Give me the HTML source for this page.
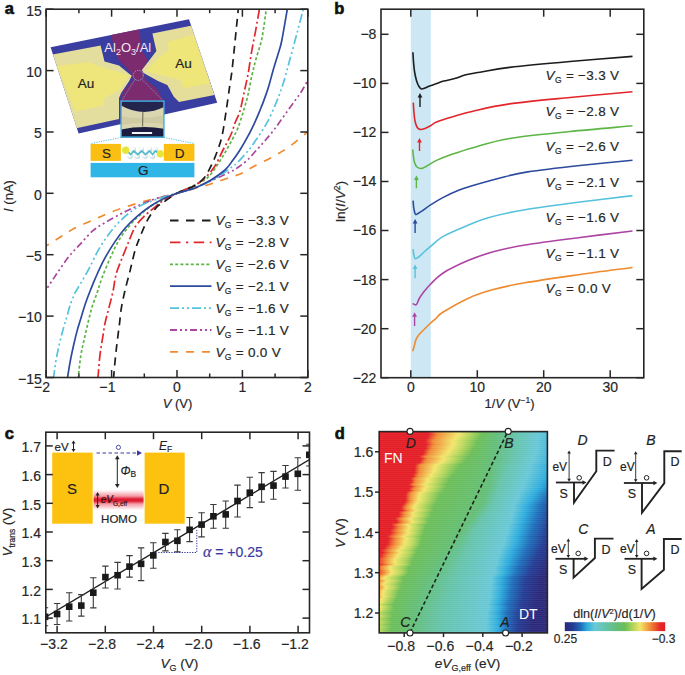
<!DOCTYPE html>
<html><head><meta charset="utf-8"><style>
html,body{margin:0;padding:0;background:#fff;}
svg{display:block;}
text{font-family:"Liberation Sans", sans-serif;}
</style></head><body>
<svg width="685" height="675" viewBox="0 0 685 675" font-family="Liberation Sans, sans-serif">
<rect width="685" height="675" fill="#fff"/>
<defs>
<clipPath id="clipA"><rect x="46.1" y="9.2" width="261.7" height="368.3"/></clipPath>
<clipPath id="clipB"><rect x="381" y="9.2" width="262.8" height="368.5"/></clipPath>
<clipPath id="clipC"><rect x="45.8" y="432.2" width="263.7" height="200.5"/></clipPath>
<linearGradient id="homo" x1="0" y1="0" x2="0" y2="1"><stop offset="0" stop-color="#e8213a" stop-opacity="0"/><stop offset="0.3" stop-color="#e8213a" stop-opacity="0.45"/><stop offset="0.45" stop-color="#dc1c32"/><stop offset="0.55" stop-color="#dc1c32"/><stop offset="0.7" stop-color="#e8213a" stop-opacity="0.45"/><stop offset="1" stop-color="#e8213a" stop-opacity="0"/></linearGradient>
<linearGradient id="cbar" x1="0" y1="0" x2="1" y2="0"><stop offset="0.000" stop-color="#2a287a"/><stop offset="0.080" stop-color="#243c94"/><stop offset="0.160" stop-color="#1e6eba"/><stop offset="0.220" stop-color="#2dacde"/><stop offset="0.300" stop-color="#69c8d7"/><stop offset="0.400" stop-color="#66c4ac"/><stop offset="0.520" stop-color="#64be78"/><stop offset="0.600" stop-color="#6cbe58"/><stop offset="0.680" stop-color="#b2d55c"/><stop offset="0.750" stop-color="#f3e66c"/><stop offset="0.850" stop-color="#f08c37"/><stop offset="0.950" stop-color="#e62826"/><stop offset="1.000" stop-color="#e41e26"/></linearGradient>
<linearGradient id="h0"><stop offset="0.000" stop-color="#e41e26"/><stop offset="0.288" stop-color="#e41e26"/><stop offset="0.342" stop-color="#f08c37"/><stop offset="0.467" stop-color="#f3e66c"/><stop offset="0.538" stop-color="#b2d55c"/><stop offset="0.610" stop-color="#6cbe58"/><stop offset="0.688" stop-color="#64be78"/><stop offset="0.818" stop-color="#66c4ac"/><stop offset="0.943" stop-color="#69c8d7"/><stop offset="1.000" stop-color="#51bdda"/></linearGradient>
<linearGradient id="h1"><stop offset="0.000" stop-color="#e41e26"/><stop offset="0.294" stop-color="#e41e26"/><stop offset="0.348" stop-color="#f08c37"/><stop offset="0.472" stop-color="#f3e66c"/><stop offset="0.544" stop-color="#b2d55c"/><stop offset="0.613" stop-color="#6cbe58"/><stop offset="0.690" stop-color="#64be78"/><stop offset="0.821" stop-color="#66c4ac"/><stop offset="0.946" stop-color="#69c8d7"/><stop offset="1.000" stop-color="#52bdda"/></linearGradient>
<linearGradient id="h2"><stop offset="0.000" stop-color="#e41e26"/><stop offset="0.286" stop-color="#e41e26"/><stop offset="0.338" stop-color="#f08c37"/><stop offset="0.461" stop-color="#f3e66c"/><stop offset="0.532" stop-color="#b2d55c"/><stop offset="0.605" stop-color="#6cbe58"/><stop offset="0.686" stop-color="#64be78"/><stop offset="0.818" stop-color="#66c4ac"/><stop offset="0.942" stop-color="#69c8d7"/><stop offset="1.000" stop-color="#50bcda"/></linearGradient>
<linearGradient id="h3"><stop offset="0.000" stop-color="#e41e26"/><stop offset="0.281" stop-color="#e41e26"/><stop offset="0.332" stop-color="#f08c37"/><stop offset="0.453" stop-color="#f3e66c"/><stop offset="0.525" stop-color="#b2d55c"/><stop offset="0.597" stop-color="#6cbe58"/><stop offset="0.685" stop-color="#64be78"/><stop offset="0.816" stop-color="#66c4ac"/><stop offset="0.940" stop-color="#69c8d7"/><stop offset="1.000" stop-color="#4fbcda"/></linearGradient>
<linearGradient id="h4"><stop offset="0.000" stop-color="#e41e26"/><stop offset="0.273" stop-color="#e41e26"/><stop offset="0.321" stop-color="#f08c37"/><stop offset="0.441" stop-color="#f3e66c"/><stop offset="0.513" stop-color="#b2d55c"/><stop offset="0.588" stop-color="#6cbe58"/><stop offset="0.681" stop-color="#64be78"/><stop offset="0.813" stop-color="#66c4ac"/><stop offset="0.936" stop-color="#69c8d7"/><stop offset="1.000" stop-color="#4dbbda"/></linearGradient>
<linearGradient id="h5"><stop offset="0.000" stop-color="#e41e26"/><stop offset="0.275" stop-color="#e41e26"/><stop offset="0.322" stop-color="#f08c37"/><stop offset="0.440" stop-color="#f3e66c"/><stop offset="0.511" stop-color="#b2d55c"/><stop offset="0.583" stop-color="#6cbe58"/><stop offset="0.682" stop-color="#64be78"/><stop offset="0.814" stop-color="#66c4ac"/><stop offset="0.937" stop-color="#69c8d7"/><stop offset="1.000" stop-color="#4dbbda"/></linearGradient>
<linearGradient id="h6"><stop offset="0.000" stop-color="#e41e26"/><stop offset="0.282" stop-color="#e41e26"/><stop offset="0.327" stop-color="#f08c37"/><stop offset="0.443" stop-color="#f3e66c"/><stop offset="0.514" stop-color="#b2d55c"/><stop offset="0.581" stop-color="#6cbe58"/><stop offset="0.685" stop-color="#64be78"/><stop offset="0.818" stop-color="#66c4ac"/><stop offset="0.940" stop-color="#69c8d7"/><stop offset="1.000" stop-color="#4ebbda"/></linearGradient>
<linearGradient id="h7"><stop offset="0.000" stop-color="#e41e26"/><stop offset="0.273" stop-color="#e41e26"/><stop offset="0.316" stop-color="#f08c37"/><stop offset="0.430" stop-color="#f3e66c"/><stop offset="0.502" stop-color="#b2d55c"/><stop offset="0.571" stop-color="#6cbe58"/><stop offset="0.681" stop-color="#64be78"/><stop offset="0.814" stop-color="#66c4ac"/><stop offset="0.935" stop-color="#69c8d7"/><stop offset="1.000" stop-color="#4cbada"/></linearGradient>
<linearGradient id="h8"><stop offset="0.000" stop-color="#e41e26"/><stop offset="0.274" stop-color="#e41e26"/><stop offset="0.315" stop-color="#f08c37"/><stop offset="0.428" stop-color="#f3e66c"/><stop offset="0.499" stop-color="#b2d55c"/><stop offset="0.566" stop-color="#6cbe58"/><stop offset="0.682" stop-color="#64be78"/><stop offset="0.815" stop-color="#66c4ac"/><stop offset="0.936" stop-color="#69c8d7"/><stop offset="1.000" stop-color="#4bbada"/></linearGradient>
<linearGradient id="h9"><stop offset="0.000" stop-color="#e41e26"/><stop offset="0.264" stop-color="#e41e26"/><stop offset="0.304" stop-color="#f08c37"/><stop offset="0.415" stop-color="#f3e66c"/><stop offset="0.486" stop-color="#b2d55c"/><stop offset="0.556" stop-color="#6cbe58"/><stop offset="0.678" stop-color="#64be78"/><stop offset="0.811" stop-color="#66c4ac"/><stop offset="0.931" stop-color="#69c8d7"/><stop offset="1.000" stop-color="#49b9db"/></linearGradient>
<linearGradient id="h10"><stop offset="0.000" stop-color="#e41e26"/><stop offset="0.262" stop-color="#e41e26"/><stop offset="0.300" stop-color="#f08c37"/><stop offset="0.409" stop-color="#f3e66c"/><stop offset="0.480" stop-color="#b2d55c"/><stop offset="0.550" stop-color="#6cbe58"/><stop offset="0.677" stop-color="#64be78"/><stop offset="0.810" stop-color="#66c4ac"/><stop offset="0.930" stop-color="#69c8d7"/><stop offset="1.000" stop-color="#48b9db"/></linearGradient>
<linearGradient id="h11"><stop offset="0.000" stop-color="#e41e26"/><stop offset="0.257" stop-color="#e41e26"/><stop offset="0.293" stop-color="#f08c37"/><stop offset="0.400" stop-color="#f3e66c"/><stop offset="0.471" stop-color="#b2d55c"/><stop offset="0.542" stop-color="#6cbe58"/><stop offset="0.675" stop-color="#64be78"/><stop offset="0.808" stop-color="#66c4ac"/><stop offset="0.927" stop-color="#69c8d7"/><stop offset="1.000" stop-color="#46b8db"/></linearGradient>
<linearGradient id="h12"><stop offset="0.000" stop-color="#e41e26"/><stop offset="0.237" stop-color="#e41e26"/><stop offset="0.272" stop-color="#f08c37"/><stop offset="0.377" stop-color="#f3e66c"/><stop offset="0.448" stop-color="#b2d55c"/><stop offset="0.526" stop-color="#6cbe58"/><stop offset="0.667" stop-color="#64be78"/><stop offset="0.796" stop-color="#66c4ac"/><stop offset="0.917" stop-color="#69c8d7"/><stop offset="1.000" stop-color="#41b5dc"/></linearGradient>
<linearGradient id="h13"><stop offset="0.000" stop-color="#e41e26"/><stop offset="0.251" stop-color="#e41e26"/><stop offset="0.286" stop-color="#f08c37"/><stop offset="0.388" stop-color="#f3e66c"/><stop offset="0.458" stop-color="#b2d55c"/><stop offset="0.525" stop-color="#6cbe58"/><stop offset="0.674" stop-color="#64be78"/><stop offset="0.799" stop-color="#66c4ac"/><stop offset="0.921" stop-color="#69c8d7"/><stop offset="1.000" stop-color="#43b6db"/></linearGradient>
<linearGradient id="h14"><stop offset="0.000" stop-color="#e41e26"/><stop offset="0.243" stop-color="#e41e26"/><stop offset="0.277" stop-color="#f08c37"/><stop offset="0.376" stop-color="#f3e66c"/><stop offset="0.446" stop-color="#b2d55c"/><stop offset="0.514" stop-color="#6cbe58"/><stop offset="0.672" stop-color="#64be78"/><stop offset="0.791" stop-color="#66c4ac"/><stop offset="0.916" stop-color="#69c8d7"/><stop offset="1.000" stop-color="#40b5dc"/></linearGradient>
<linearGradient id="h15"><stop offset="0.000" stop-color="#e41e26"/><stop offset="0.238" stop-color="#e41e26"/><stop offset="0.271" stop-color="#f08c37"/><stop offset="0.367" stop-color="#f3e66c"/><stop offset="0.437" stop-color="#b2d55c"/><stop offset="0.504" stop-color="#6cbe58"/><stop offset="0.671" stop-color="#64be78"/><stop offset="0.785" stop-color="#66c4ac"/><stop offset="0.911" stop-color="#69c8d7"/><stop offset="1.000" stop-color="#3db3dc"/></linearGradient>
<linearGradient id="h16"><stop offset="0.000" stop-color="#e41e26"/><stop offset="0.215" stop-color="#e41e26"/><stop offset="0.249" stop-color="#f08c37"/><stop offset="0.341" stop-color="#f3e66c"/><stop offset="0.410" stop-color="#b2d55c"/><stop offset="0.486" stop-color="#6cbe58"/><stop offset="0.662" stop-color="#64be78"/><stop offset="0.770" stop-color="#66c4ac"/><stop offset="0.899" stop-color="#69c8d7"/><stop offset="1.000" stop-color="#36b0dd"/></linearGradient>
<linearGradient id="h17"><stop offset="0.000" stop-color="#e41e26"/><stop offset="0.209" stop-color="#e41e26"/><stop offset="0.242" stop-color="#f08c37"/><stop offset="0.332" stop-color="#f3e66c"/><stop offset="0.400" stop-color="#b2d55c"/><stop offset="0.476" stop-color="#6cbe58"/><stop offset="0.660" stop-color="#64be78"/><stop offset="0.764" stop-color="#66c4ac"/><stop offset="0.894" stop-color="#69c8d7"/><stop offset="1.000" stop-color="#34afdd"/></linearGradient>
<linearGradient id="h18"><stop offset="0.000" stop-color="#e41e26"/><stop offset="0.211" stop-color="#e41e26"/><stop offset="0.243" stop-color="#f08c37"/><stop offset="0.330" stop-color="#f3e66c"/><stop offset="0.398" stop-color="#b2d55c"/><stop offset="0.469" stop-color="#6cbe58"/><stop offset="0.662" stop-color="#64be78"/><stop offset="0.760" stop-color="#66c4ac"/><stop offset="0.893" stop-color="#69c8d7"/><stop offset="1.000" stop-color="#33afdd"/></linearGradient>
<linearGradient id="h19"><stop offset="0.000" stop-color="#e41e26"/><stop offset="0.208" stop-color="#e41e26"/><stop offset="0.240" stop-color="#f08c37"/><stop offset="0.324" stop-color="#f3e66c"/><stop offset="0.391" stop-color="#b2d55c"/><stop offset="0.461" stop-color="#6cbe58"/><stop offset="0.662" stop-color="#64be78"/><stop offset="0.755" stop-color="#66c4ac"/><stop offset="0.890" stop-color="#69c8d7"/><stop offset="1.000" stop-color="#31aede"/></linearGradient>
<linearGradient id="h20"><stop offset="0.000" stop-color="#e41e26"/><stop offset="0.209" stop-color="#e41e26"/><stop offset="0.240" stop-color="#f08c37"/><stop offset="0.321" stop-color="#f3e66c"/><stop offset="0.388" stop-color="#b2d55c"/><stop offset="0.454" stop-color="#6cbe58"/><stop offset="0.664" stop-color="#64be78"/><stop offset="0.752" stop-color="#66c4ac"/><stop offset="0.888" stop-color="#69c8d7"/><stop offset="1.000" stop-color="#2fadde"/></linearGradient>
<linearGradient id="h21"><stop offset="0.000" stop-color="#e41e26"/><stop offset="0.201" stop-color="#e41e26"/><stop offset="0.232" stop-color="#f08c37"/><stop offset="0.309" stop-color="#f3e66c"/><stop offset="0.376" stop-color="#b2d55c"/><stop offset="0.443" stop-color="#6cbe58"/><stop offset="0.661" stop-color="#64be78"/><stop offset="0.744" stop-color="#66c4ac"/><stop offset="0.882" stop-color="#69c8d7"/><stop offset="0.998" stop-color="#2dacde"/><stop offset="1.000" stop-color="#2daadd"/></linearGradient>
<linearGradient id="h22"><stop offset="0.000" stop-color="#e41e26"/><stop offset="0.200" stop-color="#e41e26"/><stop offset="0.230" stop-color="#f08c37"/><stop offset="0.305" stop-color="#f3e66c"/><stop offset="0.371" stop-color="#b2d55c"/><stop offset="0.435" stop-color="#6cbe58"/><stop offset="0.662" stop-color="#64be78"/><stop offset="0.740" stop-color="#66c4ac"/><stop offset="0.880" stop-color="#69c8d7"/><stop offset="0.994" stop-color="#2dacde"/><stop offset="1.000" stop-color="#2ca8dc"/></linearGradient>
<linearGradient id="h23"><stop offset="0.000" stop-color="#e41e26"/><stop offset="0.185" stop-color="#e41e26"/><stop offset="0.215" stop-color="#f08c37"/><stop offset="0.287" stop-color="#f3e66c"/><stop offset="0.352" stop-color="#b2d55c"/><stop offset="0.421" stop-color="#6cbe58"/><stop offset="0.657" stop-color="#64be78"/><stop offset="0.729" stop-color="#66c4ac"/><stop offset="0.871" stop-color="#69c8d7"/><stop offset="0.985" stop-color="#2dacde"/><stop offset="1.000" stop-color="#2aa1d8"/></linearGradient>
<linearGradient id="h24"><stop offset="0.000" stop-color="#e41e26"/><stop offset="0.189" stop-color="#e41e26"/><stop offset="0.218" stop-color="#f08c37"/><stop offset="0.288" stop-color="#f3e66c"/><stop offset="0.353" stop-color="#b2d55c"/><stop offset="0.417" stop-color="#6cbe58"/><stop offset="0.657" stop-color="#64be78"/><stop offset="0.728" stop-color="#66c4ac"/><stop offset="0.870" stop-color="#69c8d7"/><stop offset="0.980" stop-color="#2dacde"/><stop offset="1.000" stop-color="#2a9ed6"/></linearGradient>
<linearGradient id="h25"><stop offset="0.000" stop-color="#e41e26"/><stop offset="0.186" stop-color="#e41e26"/><stop offset="0.215" stop-color="#f08c37"/><stop offset="0.283" stop-color="#f3e66c"/><stop offset="0.347" stop-color="#b2d55c"/><stop offset="0.410" stop-color="#6cbe58"/><stop offset="0.654" stop-color="#64be78"/><stop offset="0.723" stop-color="#66c4ac"/><stop offset="0.865" stop-color="#69c8d7"/><stop offset="0.973" stop-color="#2dacde"/><stop offset="1.000" stop-color="#2899d3"/></linearGradient>
<linearGradient id="h26"><stop offset="0.000" stop-color="#e41e26"/><stop offset="0.174" stop-color="#e41e26"/><stop offset="0.204" stop-color="#f08c37"/><stop offset="0.269" stop-color="#f3e66c"/><stop offset="0.333" stop-color="#b2d55c"/><stop offset="0.400" stop-color="#6cbe58"/><stop offset="0.647" stop-color="#64be78"/><stop offset="0.715" stop-color="#66c4ac"/><stop offset="0.856" stop-color="#69c8d7"/><stop offset="0.961" stop-color="#2dacde"/><stop offset="1.000" stop-color="#2690ce"/></linearGradient>
<linearGradient id="h27"><stop offset="0.000" stop-color="#e41e26"/><stop offset="0.189" stop-color="#e41e26"/><stop offset="0.219" stop-color="#f08c37"/><stop offset="0.282" stop-color="#f3e66c"/><stop offset="0.345" stop-color="#b2d55c"/><stop offset="0.402" stop-color="#6cbe58"/><stop offset="0.651" stop-color="#64be78"/><stop offset="0.719" stop-color="#66c4ac"/><stop offset="0.859" stop-color="#69c8d7"/><stop offset="0.961" stop-color="#2dacde"/><stop offset="1.000" stop-color="#2690ce"/></linearGradient>
<linearGradient id="h28"><stop offset="0.000" stop-color="#e41e26"/><stop offset="0.177" stop-color="#e41e26"/><stop offset="0.206" stop-color="#f08c37"/><stop offset="0.267" stop-color="#f3e66c"/><stop offset="0.330" stop-color="#b2d55c"/><stop offset="0.391" stop-color="#6cbe58"/><stop offset="0.644" stop-color="#64be78"/><stop offset="0.710" stop-color="#66c4ac"/><stop offset="0.850" stop-color="#69c8d7"/><stop offset="0.949" stop-color="#2dacde"/><stop offset="1.000" stop-color="#2487c8"/></linearGradient>
<linearGradient id="h29"><stop offset="0.000" stop-color="#e41e26"/><stop offset="0.178" stop-color="#e41e26"/><stop offset="0.208" stop-color="#f08c37"/><stop offset="0.266" stop-color="#f3e66c"/><stop offset="0.329" stop-color="#b2d55c"/><stop offset="0.387" stop-color="#6cbe58"/><stop offset="0.643" stop-color="#64be78"/><stop offset="0.708" stop-color="#66c4ac"/><stop offset="0.847" stop-color="#69c8d7"/><stop offset="0.943" stop-color="#2dacde"/><stop offset="1.000" stop-color="#2382c6"/></linearGradient>
<linearGradient id="h30"><stop offset="0.000" stop-color="#e41e26"/><stop offset="0.161" stop-color="#e41e26"/><stop offset="0.190" stop-color="#f08c37"/><stop offset="0.247" stop-color="#f3e66c"/><stop offset="0.309" stop-color="#b2d55c"/><stop offset="0.373" stop-color="#6cbe58"/><stop offset="0.633" stop-color="#64be78"/><stop offset="0.697" stop-color="#66c4ac"/><stop offset="0.835" stop-color="#69c8d7"/><stop offset="0.929" stop-color="#2dacde"/><stop offset="1.000" stop-color="#2076bf"/></linearGradient>
<linearGradient id="h31"><stop offset="0.000" stop-color="#e41e26"/><stop offset="0.156" stop-color="#e41e26"/><stop offset="0.186" stop-color="#f08c37"/><stop offset="0.240" stop-color="#f3e66c"/><stop offset="0.302" stop-color="#b2d55c"/><stop offset="0.366" stop-color="#6cbe58"/><stop offset="0.629" stop-color="#64be78"/><stop offset="0.692" stop-color="#66c4ac"/><stop offset="0.829" stop-color="#69c8d7"/><stop offset="0.920" stop-color="#2dacde"/><stop offset="1.000" stop-color="#1e6fbb"/></linearGradient>
<linearGradient id="h32"><stop offset="0.000" stop-color="#e41e26"/><stop offset="0.156" stop-color="#e41e26"/><stop offset="0.185" stop-color="#f08c37"/><stop offset="0.237" stop-color="#f3e66c"/><stop offset="0.298" stop-color="#b2d55c"/><stop offset="0.361" stop-color="#6cbe58"/><stop offset="0.627" stop-color="#64be78"/><stop offset="0.689" stop-color="#66c4ac"/><stop offset="0.826" stop-color="#69c8d7"/><stop offset="0.913" stop-color="#2dacde"/><stop offset="0.994" stop-color="#1e6eba"/><stop offset="1.000" stop-color="#1e6bb8"/></linearGradient>
<linearGradient id="h33"><stop offset="0.000" stop-color="#e41e26"/><stop offset="0.154" stop-color="#e41e26"/><stop offset="0.183" stop-color="#f08c37"/><stop offset="0.233" stop-color="#f3e66c"/><stop offset="0.294" stop-color="#b2d55c"/><stop offset="0.355" stop-color="#6cbe58"/><stop offset="0.624" stop-color="#64be78"/><stop offset="0.685" stop-color="#66c4ac"/><stop offset="0.821" stop-color="#69c8d7"/><stop offset="0.906" stop-color="#2dacde"/><stop offset="0.986" stop-color="#1e6eba"/><stop offset="1.000" stop-color="#1f66b4"/></linearGradient>
<linearGradient id="h34"><stop offset="0.000" stop-color="#e41e26"/><stop offset="0.156" stop-color="#e41e26"/><stop offset="0.186" stop-color="#f08c37"/><stop offset="0.233" stop-color="#f3e66c"/><stop offset="0.294" stop-color="#b2d55c"/><stop offset="0.351" stop-color="#6cbe58"/><stop offset="0.623" stop-color="#64be78"/><stop offset="0.684" stop-color="#66c4ac"/><stop offset="0.819" stop-color="#69c8d7"/><stop offset="0.901" stop-color="#2dacde"/><stop offset="0.980" stop-color="#1e6eba"/><stop offset="1.000" stop-color="#1f63b1"/></linearGradient>
<linearGradient id="h35"><stop offset="0.000" stop-color="#e41e26"/><stop offset="0.150" stop-color="#e41e26"/><stop offset="0.179" stop-color="#f08c37"/><stop offset="0.225" stop-color="#f3e66c"/><stop offset="0.284" stop-color="#b2d55c"/><stop offset="0.343" stop-color="#6cbe58"/><stop offset="0.618" stop-color="#64be78"/><stop offset="0.678" stop-color="#66c4ac"/><stop offset="0.812" stop-color="#69c8d7"/><stop offset="0.891" stop-color="#2dacde"/><stop offset="0.969" stop-color="#1e6eba"/><stop offset="1.000" stop-color="#205dad"/></linearGradient>
<linearGradient id="h36"><stop offset="0.000" stop-color="#e41e26"/><stop offset="0.140" stop-color="#e41e26"/><stop offset="0.170" stop-color="#f08c37"/><stop offset="0.214" stop-color="#f3e66c"/><stop offset="0.274" stop-color="#b2d55c"/><stop offset="0.335" stop-color="#6cbe58"/><stop offset="0.610" stop-color="#64be78"/><stop offset="0.670" stop-color="#66c4ac"/><stop offset="0.805" stop-color="#69c8d7"/><stop offset="0.882" stop-color="#2dacde"/><stop offset="0.959" stop-color="#1e6eba"/><stop offset="1.000" stop-color="#2157a9"/></linearGradient>
<linearGradient id="h37"><stop offset="0.000" stop-color="#e41e26"/><stop offset="0.131" stop-color="#e41e26"/><stop offset="0.161" stop-color="#f08c37"/><stop offset="0.207" stop-color="#f3e66c"/><stop offset="0.265" stop-color="#b2d55c"/><stop offset="0.328" stop-color="#6cbe58"/><stop offset="0.600" stop-color="#64be78"/><stop offset="0.660" stop-color="#66c4ac"/><stop offset="0.800" stop-color="#69c8d7"/><stop offset="0.876" stop-color="#2dacde"/><stop offset="0.954" stop-color="#1e6eba"/><stop offset="1.000" stop-color="#2154a6"/></linearGradient>
<linearGradient id="h38"><stop offset="0.000" stop-color="#e41e26"/><stop offset="0.128" stop-color="#e41e26"/><stop offset="0.160" stop-color="#f08c37"/><stop offset="0.207" stop-color="#f3e66c"/><stop offset="0.265" stop-color="#b2d55c"/><stop offset="0.324" stop-color="#6cbe58"/><stop offset="0.592" stop-color="#64be78"/><stop offset="0.653" stop-color="#66c4ac"/><stop offset="0.798" stop-color="#69c8d7"/><stop offset="0.874" stop-color="#2dacde"/><stop offset="0.952" stop-color="#1e6eba"/><stop offset="1.000" stop-color="#2153a5"/></linearGradient>
<linearGradient id="h39"><stop offset="0.000" stop-color="#e41e26"/><stop offset="0.136" stop-color="#e41e26"/><stop offset="0.169" stop-color="#f08c37"/><stop offset="0.217" stop-color="#f3e66c"/><stop offset="0.274" stop-color="#b2d55c"/><stop offset="0.325" stop-color="#6cbe58"/><stop offset="0.590" stop-color="#64be78"/><stop offset="0.652" stop-color="#66c4ac"/><stop offset="0.801" stop-color="#69c8d7"/><stop offset="0.877" stop-color="#2dacde"/><stop offset="0.954" stop-color="#1e6eba"/><stop offset="1.000" stop-color="#2154a6"/></linearGradient>
<linearGradient id="h40"><stop offset="0.000" stop-color="#e41e26"/><stop offset="0.114" stop-color="#e41e26"/><stop offset="0.149" stop-color="#f08c37"/><stop offset="0.198" stop-color="#f3e66c"/><stop offset="0.254" stop-color="#b2d55c"/><stop offset="0.313" stop-color="#6cbe58"/><stop offset="0.573" stop-color="#64be78"/><stop offset="0.636" stop-color="#66c4ac"/><stop offset="0.791" stop-color="#69c8d7"/><stop offset="0.866" stop-color="#2dacde"/><stop offset="0.943" stop-color="#1e6eba"/><stop offset="1.000" stop-color="#224ea2"/></linearGradient>
<linearGradient id="h41"><stop offset="0.000" stop-color="#e41e26"/><stop offset="0.117" stop-color="#e41e26"/><stop offset="0.152" stop-color="#f08c37"/><stop offset="0.202" stop-color="#f3e66c"/><stop offset="0.258" stop-color="#b2d55c"/><stop offset="0.312" stop-color="#6cbe58"/><stop offset="0.568" stop-color="#64be78"/><stop offset="0.632" stop-color="#66c4ac"/><stop offset="0.791" stop-color="#69c8d7"/><stop offset="0.866" stop-color="#2dacde"/><stop offset="0.943" stop-color="#1e6eba"/><stop offset="1.000" stop-color="#224ea2"/></linearGradient>
<linearGradient id="h42"><stop offset="0.000" stop-color="#e41e26"/><stop offset="0.112" stop-color="#e41e26"/><stop offset="0.149" stop-color="#f08c37"/><stop offset="0.200" stop-color="#f3e66c"/><stop offset="0.256" stop-color="#b2d55c"/><stop offset="0.308" stop-color="#6cbe58"/><stop offset="0.560" stop-color="#64be78"/><stop offset="0.625" stop-color="#66c4ac"/><stop offset="0.789" stop-color="#69c8d7"/><stop offset="0.863" stop-color="#2dacde"/><stop offset="0.940" stop-color="#1e6eba"/><stop offset="1.000" stop-color="#224da1"/></linearGradient>
<linearGradient id="h43"><stop offset="0.000" stop-color="#e41e26"/><stop offset="0.092" stop-color="#e41e26"/><stop offset="0.130" stop-color="#f08c37"/><stop offset="0.182" stop-color="#f3e66c"/><stop offset="0.237" stop-color="#b2d55c"/><stop offset="0.296" stop-color="#6cbe58"/><stop offset="0.544" stop-color="#64be78"/><stop offset="0.610" stop-color="#66c4ac"/><stop offset="0.779" stop-color="#69c8d7"/><stop offset="0.853" stop-color="#2dacde"/><stop offset="0.930" stop-color="#1e6eba"/><stop offset="1.000" stop-color="#23479c"/></linearGradient>
<linearGradient id="h44"><stop offset="0.000" stop-color="#e41e26"/><stop offset="0.098" stop-color="#e41e26"/><stop offset="0.137" stop-color="#f08c37"/><stop offset="0.191" stop-color="#f3e66c"/><stop offset="0.244" stop-color="#b2d55c"/><stop offset="0.296" stop-color="#6cbe58"/><stop offset="0.541" stop-color="#64be78"/><stop offset="0.607" stop-color="#66c4ac"/><stop offset="0.781" stop-color="#69c8d7"/><stop offset="0.854" stop-color="#2dacde"/><stop offset="0.932" stop-color="#1e6eba"/><stop offset="1.000" stop-color="#23489d"/></linearGradient>
<linearGradient id="h45"><stop offset="0.000" stop-color="#e41e26"/><stop offset="0.102" stop-color="#e41e26"/><stop offset="0.142" stop-color="#f08c37"/><stop offset="0.197" stop-color="#f3e66c"/><stop offset="0.250" stop-color="#b2d55c"/><stop offset="0.296" stop-color="#6cbe58"/><stop offset="0.536" stop-color="#64be78"/><stop offset="0.604" stop-color="#66c4ac"/><stop offset="0.782" stop-color="#69c8d7"/><stop offset="0.855" stop-color="#2dacde"/><stop offset="0.933" stop-color="#1e6eba"/><stop offset="1.000" stop-color="#23489d"/></linearGradient>
<linearGradient id="h46"><stop offset="0.000" stop-color="#e41e26"/><stop offset="0.070" stop-color="#e41e26"/><stop offset="0.112" stop-color="#f08c37"/><stop offset="0.168" stop-color="#f3e66c"/><stop offset="0.220" stop-color="#b2d55c"/><stop offset="0.279" stop-color="#6cbe58"/><stop offset="0.515" stop-color="#64be78"/><stop offset="0.584" stop-color="#66c4ac"/><stop offset="0.767" stop-color="#69c8d7"/><stop offset="0.840" stop-color="#2dacde"/><stop offset="0.917" stop-color="#1e6eba"/><stop offset="1.000" stop-color="#244097"/></linearGradient>
<linearGradient id="h47"><stop offset="0.000" stop-color="#e41e26"/><stop offset="0.078" stop-color="#e41e26"/><stop offset="0.120" stop-color="#f08c37"/><stop offset="0.178" stop-color="#f3e66c"/><stop offset="0.229" stop-color="#b2d55c"/><stop offset="0.280" stop-color="#6cbe58"/><stop offset="0.512" stop-color="#64be78"/><stop offset="0.582" stop-color="#66c4ac"/><stop offset="0.770" stop-color="#69c8d7"/><stop offset="0.842" stop-color="#2dacde"/><stop offset="0.919" stop-color="#1e6eba"/><stop offset="1.000" stop-color="#234198"/></linearGradient>
<linearGradient id="h48"><stop offset="0.000" stop-color="#e41e26"/><stop offset="0.073" stop-color="#e41e26"/><stop offset="0.117" stop-color="#f08c37"/><stop offset="0.176" stop-color="#f3e66c"/><stop offset="0.227" stop-color="#b2d55c"/><stop offset="0.275" stop-color="#6cbe58"/><stop offset="0.504" stop-color="#64be78"/><stop offset="0.575" stop-color="#66c4ac"/><stop offset="0.768" stop-color="#69c8d7"/><stop offset="0.839" stop-color="#2dacde"/><stop offset="0.917" stop-color="#1e6eba"/><stop offset="1.000" stop-color="#243f96"/></linearGradient>
<linearGradient id="h49"><stop offset="0.000" stop-color="#e41e26"/><stop offset="0.062" stop-color="#e41e26"/><stop offset="0.107" stop-color="#f08c37"/><stop offset="0.166" stop-color="#f3e66c"/><stop offset="0.217" stop-color="#b2d55c"/><stop offset="0.268" stop-color="#6cbe58"/><stop offset="0.493" stop-color="#64be78"/><stop offset="0.565" stop-color="#66c4ac"/><stop offset="0.762" stop-color="#69c8d7"/><stop offset="0.833" stop-color="#2dacde"/><stop offset="0.910" stop-color="#1e6eba"/><stop offset="0.999" stop-color="#243c94"/><stop offset="1.000" stop-color="#243c94"/></linearGradient>
<linearGradient id="h50"><stop offset="0.000" stop-color="#e41e26"/><stop offset="0.068" stop-color="#e41e26"/><stop offset="0.113" stop-color="#f08c37"/><stop offset="0.172" stop-color="#f3e66c"/><stop offset="0.223" stop-color="#b2d55c"/><stop offset="0.269" stop-color="#6cbe58"/><stop offset="0.489" stop-color="#64be78"/><stop offset="0.565" stop-color="#66c4ac"/><stop offset="0.762" stop-color="#69c8d7"/><stop offset="0.833" stop-color="#2dacde"/><stop offset="0.911" stop-color="#1e6eba"/><stop offset="0.999" stop-color="#243c94"/><stop offset="1.000" stop-color="#243c94"/></linearGradient>
<linearGradient id="h51"><stop offset="0.000" stop-color="#e41e26"/><stop offset="0.059" stop-color="#e41e26"/><stop offset="0.104" stop-color="#f08c37"/><stop offset="0.163" stop-color="#f3e66c"/><stop offset="0.215" stop-color="#b2d55c"/><stop offset="0.262" stop-color="#6cbe58"/><stop offset="0.479" stop-color="#64be78"/><stop offset="0.558" stop-color="#66c4ac"/><stop offset="0.756" stop-color="#69c8d7"/><stop offset="0.827" stop-color="#2dacde"/><stop offset="0.904" stop-color="#1e6eba"/><stop offset="0.992" stop-color="#243c94"/><stop offset="1.000" stop-color="#243a92"/></linearGradient>
<linearGradient id="h52"><stop offset="0.000" stop-color="#e41e26"/><stop offset="0.043" stop-color="#e41e26"/><stop offset="0.089" stop-color="#f08c37"/><stop offset="0.147" stop-color="#f3e66c"/><stop offset="0.200" stop-color="#b2d55c"/><stop offset="0.253" stop-color="#6cbe58"/><stop offset="0.466" stop-color="#64be78"/><stop offset="0.549" stop-color="#66c4ac"/><stop offset="0.746" stop-color="#69c8d7"/><stop offset="0.818" stop-color="#2dacde"/><stop offset="0.895" stop-color="#1e6eba"/><stop offset="0.983" stop-color="#243c94"/><stop offset="1.000" stop-color="#253990"/></linearGradient>
<linearGradient id="h53"><stop offset="0.000" stop-color="#e41e26"/><stop offset="0.056" stop-color="#e41e26"/><stop offset="0.102" stop-color="#f08c37"/><stop offset="0.160" stop-color="#f3e66c"/><stop offset="0.214" stop-color="#b2d55c"/><stop offset="0.257" stop-color="#6cbe58"/><stop offset="0.466" stop-color="#64be78"/><stop offset="0.552" stop-color="#66c4ac"/><stop offset="0.750" stop-color="#69c8d7"/><stop offset="0.822" stop-color="#2dacde"/><stop offset="0.899" stop-color="#1e6eba"/><stop offset="0.986" stop-color="#243c94"/><stop offset="1.000" stop-color="#253990"/></linearGradient>
<linearGradient id="h54"><stop offset="0.000" stop-color="#e41e26"/><stop offset="0.050" stop-color="#e41e26"/><stop offset="0.096" stop-color="#f08c37"/><stop offset="0.154" stop-color="#f3e66c"/><stop offset="0.209" stop-color="#b2d55c"/><stop offset="0.252" stop-color="#6cbe58"/><stop offset="0.457" stop-color="#64be78"/><stop offset="0.547" stop-color="#66c4ac"/><stop offset="0.745" stop-color="#69c8d7"/><stop offset="0.817" stop-color="#2dacde"/><stop offset="0.894" stop-color="#1e6eba"/><stop offset="0.981" stop-color="#243c94"/><stop offset="1.000" stop-color="#25388f"/></linearGradient>
<linearGradient id="h55"><stop offset="0.000" stop-color="#e41e26"/><stop offset="0.048" stop-color="#e41e26"/><stop offset="0.094" stop-color="#f08c37"/><stop offset="0.152" stop-color="#f3e66c"/><stop offset="0.207" stop-color="#b2d55c"/><stop offset="0.249" stop-color="#6cbe58"/><stop offset="0.449" stop-color="#64be78"/><stop offset="0.543" stop-color="#66c4ac"/><stop offset="0.742" stop-color="#69c8d7"/><stop offset="0.814" stop-color="#2dacde"/><stop offset="0.891" stop-color="#1e6eba"/><stop offset="0.977" stop-color="#243c94"/><stop offset="1.000" stop-color="#25378e"/></linearGradient>
<linearGradient id="h56"><stop offset="0.000" stop-color="#e41e26"/><stop offset="0.047" stop-color="#e41e26"/><stop offset="0.093" stop-color="#f08c37"/><stop offset="0.151" stop-color="#f3e66c"/><stop offset="0.207" stop-color="#b2d55c"/><stop offset="0.246" stop-color="#6cbe58"/><stop offset="0.443" stop-color="#64be78"/><stop offset="0.540" stop-color="#66c4ac"/><stop offset="0.740" stop-color="#69c8d7"/><stop offset="0.811" stop-color="#2dacde"/><stop offset="0.888" stop-color="#1e6eba"/><stop offset="0.974" stop-color="#243c94"/><stop offset="1.000" stop-color="#26378d"/></linearGradient>
<linearGradient id="h57"><stop offset="0.000" stop-color="#e41e26"/><stop offset="0.033" stop-color="#e41e26"/><stop offset="0.080" stop-color="#f08c37"/><stop offset="0.138" stop-color="#f3e66c"/><stop offset="0.194" stop-color="#b2d55c"/><stop offset="0.238" stop-color="#6cbe58"/><stop offset="0.431" stop-color="#64be78"/><stop offset="0.531" stop-color="#66c4ac"/><stop offset="0.732" stop-color="#69c8d7"/><stop offset="0.803" stop-color="#2dacde"/><stop offset="0.880" stop-color="#1e6eba"/><stop offset="0.965" stop-color="#243c94"/><stop offset="1.000" stop-color="#26358b"/></linearGradient>
<linearGradient id="h58"><stop offset="0.000" stop-color="#e41e26"/><stop offset="0.027" stop-color="#e41e26"/><stop offset="0.074" stop-color="#f08c37"/><stop offset="0.131" stop-color="#f3e66c"/><stop offset="0.188" stop-color="#b2d55c"/><stop offset="0.233" stop-color="#6cbe58"/><stop offset="0.422" stop-color="#64be78"/><stop offset="0.526" stop-color="#66c4ac"/><stop offset="0.726" stop-color="#69c8d7"/><stop offset="0.798" stop-color="#2dacde"/><stop offset="0.875" stop-color="#1e6eba"/><stop offset="0.960" stop-color="#243c94"/><stop offset="1.000" stop-color="#26348a"/></linearGradient>
<linearGradient id="h59"><stop offset="0.000" stop-color="#e41e26"/><stop offset="0.011" stop-color="#e41e26"/><stop offset="0.058" stop-color="#f08c37"/><stop offset="0.115" stop-color="#f3e66c"/><stop offset="0.174" stop-color="#b2d55c"/><stop offset="0.224" stop-color="#6cbe58"/><stop offset="0.408" stop-color="#64be78"/><stop offset="0.516" stop-color="#66c4ac"/><stop offset="0.717" stop-color="#69c8d7"/><stop offset="0.788" stop-color="#2dacde"/><stop offset="0.866" stop-color="#1e6eba"/><stop offset="0.950" stop-color="#243c94"/><stop offset="1.000" stop-color="#273287"/></linearGradient>
<linearGradient id="h60"><stop offset="0.000" stop-color="#e41e26"/><stop offset="0.021" stop-color="#e41e26"/><stop offset="0.068" stop-color="#f08c37"/><stop offset="0.125" stop-color="#f3e66c"/><stop offset="0.184" stop-color="#b2d55c"/><stop offset="0.226" stop-color="#6cbe58"/><stop offset="0.407" stop-color="#64be78"/><stop offset="0.518" stop-color="#66c4ac"/><stop offset="0.720" stop-color="#69c8d7"/><stop offset="0.791" stop-color="#2dacde"/><stop offset="0.868" stop-color="#1e6eba"/><stop offset="0.952" stop-color="#243c94"/><stop offset="1.000" stop-color="#273388"/></linearGradient>
<linearGradient id="h61"><stop offset="0.000" stop-color="#e41e26"/><stop offset="0.007" stop-color="#e41e26"/><stop offset="0.054" stop-color="#f08c37"/><stop offset="0.111" stop-color="#f3e66c"/><stop offset="0.171" stop-color="#b2d55c"/><stop offset="0.217" stop-color="#6cbe58"/><stop offset="0.394" stop-color="#64be78"/><stop offset="0.509" stop-color="#66c4ac"/><stop offset="0.711" stop-color="#69c8d7"/><stop offset="0.782" stop-color="#2dacde"/><stop offset="0.860" stop-color="#1e6eba"/><stop offset="0.943" stop-color="#243c94"/><stop offset="1.000" stop-color="#273185"/></linearGradient>
<linearGradient id="h62"><stop offset="0.000" stop-color="#e41e26"/><stop offset="0.004" stop-color="#e41e26"/><stop offset="0.051" stop-color="#f08c37"/><stop offset="0.107" stop-color="#f3e66c"/><stop offset="0.167" stop-color="#b2d55c"/><stop offset="0.212" stop-color="#6cbe58"/><stop offset="0.387" stop-color="#64be78"/><stop offset="0.505" stop-color="#66c4ac"/><stop offset="0.708" stop-color="#69c8d7"/><stop offset="0.779" stop-color="#2dacde"/><stop offset="0.855" stop-color="#1e6eba"/><stop offset="0.938" stop-color="#243c94"/><stop offset="1.000" stop-color="#283084"/></linearGradient>
<linearGradient id="h63"><stop offset="0.000" stop-color="#e73628"/><stop offset="0.041" stop-color="#f08c37"/><stop offset="0.095" stop-color="#f3e66c"/><stop offset="0.155" stop-color="#b2d55c"/><stop offset="0.204" stop-color="#6cbe58"/><stop offset="0.375" stop-color="#64be78"/><stop offset="0.497" stop-color="#66c4ac"/><stop offset="0.702" stop-color="#69c8d7"/><stop offset="0.771" stop-color="#2dacde"/><stop offset="0.847" stop-color="#1e6eba"/><stop offset="0.929" stop-color="#243c94"/><stop offset="1.000" stop-color="#282e82"/></linearGradient>
<linearGradient id="h64"><stop offset="0.000" stop-color="#e83a29"/><stop offset="0.039" stop-color="#f08c37"/><stop offset="0.091" stop-color="#f3e66c"/><stop offset="0.151" stop-color="#b2d55c"/><stop offset="0.199" stop-color="#6cbe58"/><stop offset="0.368" stop-color="#64be78"/><stop offset="0.493" stop-color="#66c4ac"/><stop offset="0.699" stop-color="#69c8d7"/><stop offset="0.768" stop-color="#2dacde"/><stop offset="0.843" stop-color="#1e6eba"/><stop offset="0.925" stop-color="#243c94"/><stop offset="1.000" stop-color="#292d80"/></linearGradient>
<linearGradient id="h65"><stop offset="0.000" stop-color="#e83c29"/><stop offset="0.038" stop-color="#f08c37"/><stop offset="0.089" stop-color="#f3e66c"/><stop offset="0.149" stop-color="#b2d55c"/><stop offset="0.195" stop-color="#6cbe58"/><stop offset="0.362" stop-color="#64be78"/><stop offset="0.490" stop-color="#66c4ac"/><stop offset="0.698" stop-color="#69c8d7"/><stop offset="0.765" stop-color="#2dacde"/><stop offset="0.839" stop-color="#1e6eba"/><stop offset="0.921" stop-color="#243c94"/><stop offset="1.000" stop-color="#292c7f"/></linearGradient>
<linearGradient id="h66"><stop offset="0.000" stop-color="#e41e26"/><stop offset="0.000" stop-color="#e41e26"/><stop offset="0.048" stop-color="#f08c37"/><stop offset="0.097" stop-color="#f3e66c"/><stop offset="0.157" stop-color="#b2d55c"/><stop offset="0.195" stop-color="#6cbe58"/><stop offset="0.360" stop-color="#64be78"/><stop offset="0.492" stop-color="#66c4ac"/><stop offset="0.701" stop-color="#69c8d7"/><stop offset="0.768" stop-color="#2dacde"/><stop offset="0.840" stop-color="#1e6eba"/><stop offset="0.921" stop-color="#243c94"/><stop offset="1.000" stop-color="#292c7f"/></linearGradient>
<linearGradient id="h67"><stop offset="0.000" stop-color="#ec6731"/><stop offset="0.018" stop-color="#f08c37"/><stop offset="0.066" stop-color="#f3e66c"/><stop offset="0.126" stop-color="#b2d55c"/><stop offset="0.178" stop-color="#6cbe58"/><stop offset="0.340" stop-color="#64be78"/><stop offset="0.475" stop-color="#66c4ac"/><stop offset="0.686" stop-color="#69c8d7"/><stop offset="0.752" stop-color="#2dacde"/><stop offset="0.823" stop-color="#1e6eba"/><stop offset="0.904" stop-color="#243c94"/><stop offset="1.000" stop-color="#2a287b"/></linearGradient>
<linearGradient id="h68"><stop offset="0.000" stop-color="#ec6631"/><stop offset="0.018" stop-color="#f08c37"/><stop offset="0.064" stop-color="#f3e66c"/><stop offset="0.124" stop-color="#b2d55c"/><stop offset="0.174" stop-color="#6cbe58"/><stop offset="0.334" stop-color="#64be78"/><stop offset="0.473" stop-color="#66c4ac"/><stop offset="0.684" stop-color="#69c8d7"/><stop offset="0.749" stop-color="#2dacde"/><stop offset="0.820" stop-color="#1e6eba"/><stop offset="0.900" stop-color="#243c94"/><stop offset="0.998" stop-color="#2a287a"/><stop offset="1.000" stop-color="#2a287a"/></linearGradient>
<linearGradient id="h69"><stop offset="0.000" stop-color="#ea542d"/><stop offset="0.027" stop-color="#f08c37"/><stop offset="0.072" stop-color="#f3e66c"/><stop offset="0.132" stop-color="#b2d55c"/><stop offset="0.174" stop-color="#6cbe58"/><stop offset="0.331" stop-color="#64be78"/><stop offset="0.474" stop-color="#66c4ac"/><stop offset="0.687" stop-color="#69c8d7"/><stop offset="0.751" stop-color="#2dacde"/><stop offset="0.821" stop-color="#1e6eba"/><stop offset="0.900" stop-color="#243c94"/><stop offset="0.998" stop-color="#2a287a"/><stop offset="1.000" stop-color="#2a287a"/></linearGradient>
<linearGradient id="h70"><stop offset="0.000" stop-color="#e9492c"/><stop offset="0.032" stop-color="#f08c37"/><stop offset="0.075" stop-color="#f3e66c"/><stop offset="0.135" stop-color="#b2d55c"/><stop offset="0.172" stop-color="#6cbe58"/><stop offset="0.328" stop-color="#64be78"/><stop offset="0.473" stop-color="#66c4ac"/><stop offset="0.688" stop-color="#69c8d7"/><stop offset="0.751" stop-color="#2dacde"/><stop offset="0.820" stop-color="#1e6eba"/><stop offset="0.899" stop-color="#243c94"/><stop offset="0.996" stop-color="#2a287a"/><stop offset="1.000" stop-color="#2a287a"/></linearGradient>
<linearGradient id="h71"><stop offset="0.000" stop-color="#ec6030"/><stop offset="0.021" stop-color="#f08c37"/><stop offset="0.063" stop-color="#f3e66c"/><stop offset="0.123" stop-color="#b2d55c"/><stop offset="0.164" stop-color="#6cbe58"/><stop offset="0.316" stop-color="#64be78"/><stop offset="0.466" stop-color="#66c4ac"/><stop offset="0.682" stop-color="#69c8d7"/><stop offset="0.744" stop-color="#2dacde"/><stop offset="0.812" stop-color="#1e6eba"/><stop offset="0.890" stop-color="#243c94"/><stop offset="0.987" stop-color="#2a287a"/><stop offset="1.000" stop-color="#2a287a"/></linearGradient>
<linearGradient id="h72"><stop offset="0.000" stop-color="#f0923a"/><stop offset="0.038" stop-color="#f3e66c"/><stop offset="0.098" stop-color="#b2d55c"/><stop offset="0.149" stop-color="#6cbe58"/><stop offset="0.299" stop-color="#64be78"/><stop offset="0.452" stop-color="#66c4ac"/><stop offset="0.670" stop-color="#69c8d7"/><stop offset="0.731" stop-color="#2dacde"/><stop offset="0.798" stop-color="#1e6eba"/><stop offset="0.876" stop-color="#243c94"/><stop offset="0.972" stop-color="#2a287a"/><stop offset="1.000" stop-color="#2a287a"/></linearGradient>
<linearGradient id="h73"><stop offset="0.000" stop-color="#f1a747"/><stop offset="0.027" stop-color="#f3e66c"/><stop offset="0.087" stop-color="#b2d55c"/><stop offset="0.141" stop-color="#6cbe58"/><stop offset="0.289" stop-color="#64be78"/><stop offset="0.445" stop-color="#66c4ac"/><stop offset="0.664" stop-color="#69c8d7"/><stop offset="0.724" stop-color="#2dacde"/><stop offset="0.790" stop-color="#1e6eba"/><stop offset="0.868" stop-color="#243c94"/><stop offset="0.963" stop-color="#2a287a"/><stop offset="1.000" stop-color="#2a287a"/></linearGradient>
<linearGradient id="h74"><stop offset="0.000" stop-color="#ef7f35"/><stop offset="0.006" stop-color="#f08c37"/><stop offset="0.045" stop-color="#f3e66c"/><stop offset="0.104" stop-color="#b2d55c"/><stop offset="0.146" stop-color="#6cbe58"/><stop offset="0.291" stop-color="#64be78"/><stop offset="0.451" stop-color="#66c4ac"/><stop offset="0.671" stop-color="#69c8d7"/><stop offset="0.731" stop-color="#2dacde"/><stop offset="0.796" stop-color="#1e6eba"/><stop offset="0.873" stop-color="#243c94"/><stop offset="0.968" stop-color="#2a287a"/><stop offset="1.000" stop-color="#2a287a"/></linearGradient>
<linearGradient id="h75"><stop offset="0.000" stop-color="#f09a3f"/><stop offset="0.033" stop-color="#f3e66c"/><stop offset="0.090" stop-color="#b2d55c"/><stop offset="0.137" stop-color="#6cbe58"/><stop offset="0.282" stop-color="#64be78"/><stop offset="0.442" stop-color="#66c4ac"/><stop offset="0.666" stop-color="#69c8d7"/><stop offset="0.725" stop-color="#2dacde"/><stop offset="0.790" stop-color="#1e6eba"/><stop offset="0.867" stop-color="#243c94"/><stop offset="0.962" stop-color="#2a287a"/><stop offset="1.000" stop-color="#2a287a"/></linearGradient>
<linearGradient id="h76"><stop offset="0.000" stop-color="#f1a948"/><stop offset="0.026" stop-color="#f3e66c"/><stop offset="0.082" stop-color="#b2d55c"/><stop offset="0.131" stop-color="#6cbe58"/><stop offset="0.274" stop-color="#64be78"/><stop offset="0.436" stop-color="#66c4ac"/><stop offset="0.662" stop-color="#69c8d7"/><stop offset="0.722" stop-color="#2dacde"/><stop offset="0.786" stop-color="#1e6eba"/><stop offset="0.863" stop-color="#243c94"/><stop offset="0.957" stop-color="#2a287a"/><stop offset="1.000" stop-color="#2a287a"/></linearGradient>
<linearGradient id="h77"><stop offset="0.000" stop-color="#f08d37"/><stop offset="0.039" stop-color="#f3e66c"/><stop offset="0.092" stop-color="#b2d55c"/><stop offset="0.134" stop-color="#6cbe58"/><stop offset="0.276" stop-color="#64be78"/><stop offset="0.438" stop-color="#66c4ac"/><stop offset="0.668" stop-color="#69c8d7"/><stop offset="0.727" stop-color="#2dacde"/><stop offset="0.791" stop-color="#1e6eba"/><stop offset="0.868" stop-color="#243c94"/><stop offset="0.962" stop-color="#2a287a"/><stop offset="1.000" stop-color="#2a287a"/></linearGradient>
<linearGradient id="h78"><stop offset="0.000" stop-color="#f0933b"/><stop offset="0.036" stop-color="#f3e66c"/><stop offset="0.088" stop-color="#b2d55c"/><stop offset="0.129" stop-color="#6cbe58"/><stop offset="0.271" stop-color="#64be78"/><stop offset="0.434" stop-color="#66c4ac"/><stop offset="0.666" stop-color="#69c8d7"/><stop offset="0.726" stop-color="#2dacde"/><stop offset="0.789" stop-color="#1e6eba"/><stop offset="0.866" stop-color="#243c94"/><stop offset="0.960" stop-color="#2a287a"/><stop offset="1.000" stop-color="#2a287a"/></linearGradient>
<linearGradient id="h79"><stop offset="0.000" stop-color="#f1ac4a"/><stop offset="0.025" stop-color="#f3e66c"/><stop offset="0.075" stop-color="#b2d55c"/><stop offset="0.121" stop-color="#6cbe58"/><stop offset="0.261" stop-color="#64be78"/><stop offset="0.426" stop-color="#66c4ac"/><stop offset="0.661" stop-color="#69c8d7"/><stop offset="0.721" stop-color="#2dacde"/><stop offset="0.783" stop-color="#1e6eba"/><stop offset="0.861" stop-color="#243c94"/><stop offset="0.953" stop-color="#2a287a"/><stop offset="1.000" stop-color="#2a287a"/></linearGradient>
<linearGradient id="h80"><stop offset="0.000" stop-color="#f1b34e"/><stop offset="0.023" stop-color="#f3e66c"/><stop offset="0.070" stop-color="#b2d55c"/><stop offset="0.117" stop-color="#6cbe58"/><stop offset="0.256" stop-color="#64be78"/><stop offset="0.422" stop-color="#66c4ac"/><stop offset="0.660" stop-color="#69c8d7"/><stop offset="0.719" stop-color="#2dacde"/><stop offset="0.781" stop-color="#1e6eba"/><stop offset="0.859" stop-color="#243c94"/><stop offset="0.951" stop-color="#2a287a"/><stop offset="1.000" stop-color="#2a287a"/></linearGradient>
<linearGradient id="h81"><stop offset="0.000" stop-color="#f1b851"/><stop offset="0.020" stop-color="#f3e66c"/><stop offset="0.066" stop-color="#b2d55c"/><stop offset="0.113" stop-color="#6cbe58"/><stop offset="0.251" stop-color="#64be78"/><stop offset="0.417" stop-color="#66c4ac"/><stop offset="0.658" stop-color="#69c8d7"/><stop offset="0.718" stop-color="#2dacde"/><stop offset="0.780" stop-color="#1e6eba"/><stop offset="0.857" stop-color="#243c94"/><stop offset="0.949" stop-color="#2a287a"/><stop offset="1.000" stop-color="#2a287a"/></linearGradient>
<linearGradient id="h82"><stop offset="0.000" stop-color="#f1ac4a"/><stop offset="0.026" stop-color="#f3e66c"/><stop offset="0.070" stop-color="#b2d55c"/><stop offset="0.112" stop-color="#6cbe58"/><stop offset="0.249" stop-color="#64be78"/><stop offset="0.417" stop-color="#66c4ac"/><stop offset="0.661" stop-color="#69c8d7"/><stop offset="0.720" stop-color="#2dacde"/><stop offset="0.781" stop-color="#1e6eba"/><stop offset="0.859" stop-color="#243c94"/><stop offset="0.950" stop-color="#2a287a"/><stop offset="1.000" stop-color="#2a287a"/></linearGradient>
<linearGradient id="h83"><stop offset="0.000" stop-color="#f2c559"/><stop offset="0.015" stop-color="#f3e66c"/><stop offset="0.057" stop-color="#b2d55c"/><stop offset="0.104" stop-color="#6cbe58"/><stop offset="0.240" stop-color="#64be78"/><stop offset="0.409" stop-color="#66c4ac"/><stop offset="0.655" stop-color="#69c8d7"/><stop offset="0.715" stop-color="#2dacde"/><stop offset="0.776" stop-color="#1e6eba"/><stop offset="0.853" stop-color="#243c94"/><stop offset="0.944" stop-color="#2a287a"/><stop offset="1.000" stop-color="#2a287a"/></linearGradient>
<linearGradient id="h84"><stop offset="0.000" stop-color="#f2cf5e"/><stop offset="0.011" stop-color="#f3e66c"/><stop offset="0.051" stop-color="#b2d55c"/><stop offset="0.099" stop-color="#6cbe58"/><stop offset="0.234" stop-color="#64be78"/><stop offset="0.404" stop-color="#66c4ac"/><stop offset="0.653" stop-color="#69c8d7"/><stop offset="0.712" stop-color="#2dacde"/><stop offset="0.773" stop-color="#1e6eba"/><stop offset="0.850" stop-color="#243c94"/><stop offset="0.940" stop-color="#2a287a"/><stop offset="1.000" stop-color="#2a287a"/></linearGradient>
<linearGradient id="h85"><stop offset="0.000" stop-color="#f2d663"/><stop offset="0.007" stop-color="#f3e66c"/><stop offset="0.045" stop-color="#b2d55c"/><stop offset="0.094" stop-color="#6cbe58"/><stop offset="0.228" stop-color="#64be78"/><stop offset="0.399" stop-color="#66c4ac"/><stop offset="0.651" stop-color="#69c8d7"/><stop offset="0.711" stop-color="#2dacde"/><stop offset="0.771" stop-color="#1e6eba"/><stop offset="0.848" stop-color="#243c94"/><stop offset="0.938" stop-color="#2a287a"/><stop offset="1.000" stop-color="#2a287a"/></linearGradient>
<linearGradient id="h86"><stop offset="0.000" stop-color="#dce066"/><stop offset="0.023" stop-color="#b2d55c"/><stop offset="0.082" stop-color="#6cbe58"/><stop offset="0.214" stop-color="#64be78"/><stop offset="0.387" stop-color="#66c4ac"/><stop offset="0.642" stop-color="#69c8d7"/><stop offset="0.701" stop-color="#2dacde"/><stop offset="0.761" stop-color="#1e6eba"/><stop offset="0.838" stop-color="#243c94"/><stop offset="0.927" stop-color="#2a287a"/><stop offset="1.000" stop-color="#2a287a"/></linearGradient>
<linearGradient id="h87"><stop offset="0.000" stop-color="#f3d965"/><stop offset="0.006" stop-color="#f3e66c"/><stop offset="0.042" stop-color="#b2d55c"/><stop offset="0.090" stop-color="#6cbe58"/><stop offset="0.221" stop-color="#64be78"/><stop offset="0.394" stop-color="#66c4ac"/><stop offset="0.651" stop-color="#69c8d7"/><stop offset="0.711" stop-color="#2dacde"/><stop offset="0.770" stop-color="#1e6eba"/><stop offset="0.846" stop-color="#243c94"/><stop offset="0.935" stop-color="#2a287a"/><stop offset="1.000" stop-color="#2a287a"/></linearGradient>
<linearGradient id="h88"><stop offset="0.000" stop-color="#f2e66c"/><stop offset="0.037" stop-color="#b2d55c"/><stop offset="0.088" stop-color="#6cbe58"/><stop offset="0.218" stop-color="#64be78"/><stop offset="0.390" stop-color="#66c4ac"/><stop offset="0.648" stop-color="#69c8d7"/><stop offset="0.710" stop-color="#2dacde"/><stop offset="0.767" stop-color="#1e6eba"/><stop offset="0.843" stop-color="#243c94"/><stop offset="0.932" stop-color="#2a287a"/><stop offset="1.000" stop-color="#2a287a"/></linearGradient>
<linearGradient id="h89"><stop offset="0.000" stop-color="#e7e369"/><stop offset="0.031" stop-color="#b2d55c"/><stop offset="0.085" stop-color="#6cbe58"/><stop offset="0.213" stop-color="#64be78"/><stop offset="0.386" stop-color="#66c4ac"/><stop offset="0.646" stop-color="#69c8d7"/><stop offset="0.708" stop-color="#2dacde"/><stop offset="0.765" stop-color="#1e6eba"/><stop offset="0.839" stop-color="#243c94"/><stop offset="0.928" stop-color="#2a287a"/><stop offset="1.000" stop-color="#2a287a"/></linearGradient>
<linearGradient id="h90"><stop offset="0.000" stop-color="#c1d960"/><stop offset="0.009" stop-color="#b2d55c"/><stop offset="0.074" stop-color="#6cbe58"/><stop offset="0.202" stop-color="#64be78"/><stop offset="0.374" stop-color="#66c4ac"/><stop offset="0.636" stop-color="#69c8d7"/><stop offset="0.699" stop-color="#2dacde"/><stop offset="0.755" stop-color="#1e6eba"/><stop offset="0.828" stop-color="#243c94"/><stop offset="0.917" stop-color="#2a287a"/><stop offset="1.000" stop-color="#2a287a"/></linearGradient>
<linearGradient id="h91"><stop offset="0.000" stop-color="#cddc63"/><stop offset="0.017" stop-color="#b2d55c"/><stop offset="0.078" stop-color="#6cbe58"/><stop offset="0.204" stop-color="#64be78"/><stop offset="0.377" stop-color="#66c4ac"/><stop offset="0.640" stop-color="#69c8d7"/><stop offset="0.704" stop-color="#2dacde"/><stop offset="0.759" stop-color="#1e6eba"/><stop offset="0.831" stop-color="#243c94"/><stop offset="0.920" stop-color="#2a287a"/><stop offset="1.000" stop-color="#2a287a"/></linearGradient>
<linearGradient id="h92"><stop offset="0.000" stop-color="#dbe066"/><stop offset="0.026" stop-color="#b2d55c"/><stop offset="0.081" stop-color="#6cbe58"/><stop offset="0.207" stop-color="#64be78"/><stop offset="0.379" stop-color="#66c4ac"/><stop offset="0.644" stop-color="#69c8d7"/><stop offset="0.709" stop-color="#2dacde"/><stop offset="0.763" stop-color="#1e6eba"/><stop offset="0.834" stop-color="#243c94"/><stop offset="0.923" stop-color="#2a287a"/><stop offset="1.000" stop-color="#2a287a"/></linearGradient>
<linearGradient id="h93"><stop offset="0.000" stop-color="#b6d65d"/><stop offset="0.003" stop-color="#b2d55c"/><stop offset="0.070" stop-color="#6cbe58"/><stop offset="0.195" stop-color="#64be78"/><stop offset="0.367" stop-color="#66c4ac"/><stop offset="0.633" stop-color="#69c8d7"/><stop offset="0.700" stop-color="#2dacde"/><stop offset="0.752" stop-color="#1e6eba"/><stop offset="0.823" stop-color="#243c94"/><stop offset="0.912" stop-color="#2a287a"/><stop offset="1.000" stop-color="#2a287a"/></linearGradient>
<linearGradient id="h94"><stop offset="0.000" stop-color="#c5da61"/><stop offset="0.013" stop-color="#b2d55c"/><stop offset="0.075" stop-color="#6cbe58"/><stop offset="0.198" stop-color="#64be78"/><stop offset="0.370" stop-color="#66c4ac"/><stop offset="0.638" stop-color="#69c8d7"/><stop offset="0.706" stop-color="#2dacde"/><stop offset="0.757" stop-color="#1e6eba"/><stop offset="0.826" stop-color="#243c94"/><stop offset="0.915" stop-color="#2a287a"/><stop offset="1.000" stop-color="#2a287a"/></linearGradient>
<linearGradient id="h95"><stop offset="0.000" stop-color="#cedc63"/><stop offset="0.020" stop-color="#b2d55c"/><stop offset="0.078" stop-color="#6cbe58"/><stop offset="0.200" stop-color="#64be78"/><stop offset="0.372" stop-color="#66c4ac"/><stop offset="0.641" stop-color="#69c8d7"/><stop offset="0.710" stop-color="#2dacde"/><stop offset="0.760" stop-color="#1e6eba"/><stop offset="0.828" stop-color="#243c94"/><stop offset="0.918" stop-color="#2a287a"/><stop offset="1.000" stop-color="#2a287a"/></linearGradient>
<linearGradient id="h96"><stop offset="0.000" stop-color="#b1d55c"/><stop offset="0.068" stop-color="#6cbe58"/><stop offset="0.189" stop-color="#64be78"/><stop offset="0.361" stop-color="#66c4ac"/><stop offset="0.632" stop-color="#69c8d7"/><stop offset="0.702" stop-color="#2dacde"/><stop offset="0.751" stop-color="#1e6eba"/><stop offset="0.818" stop-color="#243c94"/><stop offset="0.907" stop-color="#2a287a"/><stop offset="1.000" stop-color="#2a287a"/></linearGradient>
<linearGradient id="h97"><stop offset="0.000" stop-color="#ccdc62"/><stop offset="0.019" stop-color="#b2d55c"/><stop offset="0.077" stop-color="#6cbe58"/><stop offset="0.197" stop-color="#64be78"/><stop offset="0.369" stop-color="#66c4ac"/><stop offset="0.641" stop-color="#69c8d7"/><stop offset="0.712" stop-color="#2dacde"/><stop offset="0.760" stop-color="#1e6eba"/><stop offset="0.826" stop-color="#243c94"/><stop offset="0.916" stop-color="#2a287a"/><stop offset="1.000" stop-color="#2a287a"/></linearGradient>
<linearGradient id="h98"><stop offset="0.000" stop-color="#bed85f"/><stop offset="0.009" stop-color="#b2d55c"/><stop offset="0.072" stop-color="#6cbe58"/><stop offset="0.191" stop-color="#64be78"/><stop offset="0.363" stop-color="#66c4ac"/><stop offset="0.637" stop-color="#69c8d7"/><stop offset="0.708" stop-color="#2dacde"/><stop offset="0.756" stop-color="#1e6eba"/><stop offset="0.821" stop-color="#243c94"/><stop offset="0.910" stop-color="#2a287a"/><stop offset="1.000" stop-color="#2a287a"/></linearGradient>
<linearGradient id="h99"><stop offset="0.000" stop-color="#b7d65d"/><stop offset="0.004" stop-color="#b2d55c"/><stop offset="0.070" stop-color="#6cbe58"/><stop offset="0.189" stop-color="#64be78"/><stop offset="0.361" stop-color="#66c4ac"/><stop offset="0.634" stop-color="#69c8d7"/><stop offset="0.706" stop-color="#2dacde"/><stop offset="0.753" stop-color="#1e6eba"/><stop offset="0.819" stop-color="#243c94"/><stop offset="0.908" stop-color="#2a287a"/><stop offset="1.000" stop-color="#2a287a"/></linearGradient>
<linearGradient id="h100"><stop offset="0.000" stop-color="#bcd85e"/><stop offset="0.007" stop-color="#b2d55c"/><stop offset="0.071" stop-color="#6cbe58"/><stop offset="0.190" stop-color="#64be78"/><stop offset="0.363" stop-color="#66c4ac"/><stop offset="0.636" stop-color="#69c8d7"/><stop offset="0.707" stop-color="#2dacde"/><stop offset="0.755" stop-color="#1e6eba"/><stop offset="0.820" stop-color="#243c94"/><stop offset="0.910" stop-color="#2a287a"/><stop offset="1.000" stop-color="#2a287a"/></linearGradient>
</defs>
<g>
<clipPath id="subClip"><polygon points="50.6,47.2 189,19.3 217.2,102.8 78.6,133.4"/></clipPath>
<polygon points="50.6,47.2 189,19.3 217.2,102.8 78.6,133.4" fill="#3a3ea0"/>
<g clip-path="url(#subClip)">
<polygon points="109.5,20 138.3,20 142,51 147.6,60 142.3,71.8 146,80 156,88 163.5,100 166,130 120,130 120.5,100 124,90 133,80 130.5,72 118.6,60 114,51" fill="#7b2b6e"/>
<polygon points="48,55.5 100.6,45.6 104.5,61.5 119,65.6 129.4,73.9 131.8,75.8 129.2,81 121.3,92.8 119,98.1 119,119 74,128.8" fill="#e4de9e"/>
<polygon points="57,66 90,62 91.2,63.5 129,75.2 120.4,89.2 104,98.5 104,105 75.4,111.6" fill="#eee67a"/>
<polygon points="152.4,33.6 192,25.5 214.5,95 179,102 173.8,96.8 167.3,85 158,81 143.6,73.1 141.9,70 156.4,51.1" fill="#e5de9a"/>
<polygon points="167.3,41.9 193.6,35 209.7,83.4 183.6,88.3 180.4,80.1 146.2,71.2 157.6,59 169,50" fill="#eee679"/>
</g>
<text x="127.8" y="51.6" font-size="13" text-anchor="middle" fill="#f3e6f3" >Al<tspan font-size="9" dy="3.5">2</tspan><tspan dy="-3.5">O</tspan><tspan font-size="9" dy="3.5">3</tspan><tspan dy="-3.5">/Al</tspan></text>
<text x="86" y="88" font-size="13.5" text-anchor="middle" fill="#222"  stroke="#222" stroke-width="0.18">Au</text>
<text x="183.5" y="68" font-size="13.5" text-anchor="middle" fill="#222"  stroke="#222" stroke-width="0.18">Au</text>
<circle cx="138.3" cy="75.4" r="5" fill="none" stroke="#8fb6e6" stroke-width="1" stroke-dasharray="1.2,1.2"/>
<line x1="135" y1="79.5" x2="121.5" y2="101" stroke="#6aa8e0" stroke-width="0.9" stroke-dasharray="1.2,1.2"/>
<line x1="142" y1="79.5" x2="163.5" y2="101" stroke="#6aa8e0" stroke-width="0.9" stroke-dasharray="1.2,1.2"/>
<rect x="121" y="101" width="43" height="36.3" fill="#23254f"/>
<rect x="121" y="127" width="43" height="10.3" fill="#1b1d40"/>
<path d="M121,105.4 Q142.7,117.6 164,107 L164,128.7 Q142.7,125.1 121,129.5 Z" fill="#d9d6b0"/>
<path d="M121,116 Q142.7,121 164,115 L164,124 Q142.7,121 121,125 Z" fill="#cac7a0" opacity="0.7"/>
<line x1="142.9" y1="111.5" x2="142.6" y2="126.5" stroke="#5a5844" stroke-width="0.9"/>
<rect x="131.9" y="132" width="20.2" height="2" fill="#f4f4f4"/>
<rect x="121.1" y="101.1" width="42.8" height="36" fill="none" stroke="#3fb3e2" stroke-width="1.4"/>
<line x1="121" y1="137.5" x2="91" y2="143.5" stroke="#4ab6e4" stroke-width="0.9" stroke-dasharray="1.2,1.2"/>
<line x1="164" y1="137.5" x2="194" y2="143.5" stroke="#4ab6e4" stroke-width="0.9" stroke-dasharray="1.2,1.2"/>
<rect x="90.6" y="143.9" width="30.3" height="17" fill="#fbbf14"/>
<rect x="163.8" y="143.9" width="30.6" height="17" fill="#fbbf14"/>
<rect x="90.6" y="162.9" width="103.8" height="14.4" fill="#2fb6e6"/>
<text x="106.6" y="157.6" font-size="13.5" text-anchor="middle" fill="#222"  stroke="#222" stroke-width="0.18">S</text>
<text x="179.6" y="157.6" font-size="13.5" text-anchor="middle" fill="#222"  stroke="#222" stroke-width="0.18">D</text>
<text x="143.2" y="175.3" font-size="13.5" text-anchor="middle" fill="#222"  stroke="#222" stroke-width="0.18">G</text>
<radialGradient id="sph" cx="0.4" cy="0.35" r="0.65"><stop offset="0" stop-color="#ffffff"/><stop offset="0.6" stop-color="#eef6f8"/><stop offset="1" stop-color="#a9c9d6"/></radialGradient>
<circle cx="133.3" cy="149.5" r="2.7" fill="url(#sph)"/>
<circle cx="141.4" cy="149.5" r="2.7" fill="url(#sph)"/>
<circle cx="149.4" cy="149.5" r="2.7" fill="url(#sph)"/>
<circle cx="155.2" cy="149.5" r="2.7" fill="url(#sph)"/>
<circle cx="130" cy="156" r="2.7" fill="url(#sph)"/>
<circle cx="137.3" cy="156" r="2.7" fill="url(#sph)"/>
<circle cx="145" cy="156" r="2.7" fill="url(#sph)"/>
<circle cx="152.3" cy="156" r="2.7" fill="url(#sph)"/>
<polyline points="127,151 130.8,154.5 133.8,151 137.8,154.5 141.8,151 145.4,154.5 149.6,151 152.6,154.5 155.4,151 159,153.5" fill="none" stroke="#45b5c5" stroke-width="1.7" opacity="0.9"/>
<circle cx="125.7" cy="150.2" r="3.7" fill="#e6e63a"/>
<circle cx="160.3" cy="153.9" r="3.6" fill="#e6e63a"/>
</g>
<g clip-path="url(#clipA)" fill="none" stroke-width="1.7">
<path d="M42,248.5 C42.7,248.1 43,248 46,246.1 C49,244.2 55.3,240.2 60,237.3 C64.7,234.4 68.8,231.3 74,228.5 C79.2,225.7 85.7,223.3 91.5,220.7 C97.3,218.1 103.2,215.2 109.1,212.8 C114.9,210.5 120.8,208.5 126.6,206.6 C132.4,204.7 138.3,203 144.1,201.4 C149.9,199.8 156.1,198.4 161.6,197 C167.1,195.6 169.3,195.2 177.1,193.2 C184.9,191.1 199.6,187.3 208.4,184.7 C217.2,182 224.6,179.1 230,177.3 C235.4,175.5 236.8,175.6 240.7,173.8 C244.5,172 248.1,169.4 253.1,166.7 C258.1,164 265,161.1 270.9,157.8 C276.8,154.5 282.8,151.2 288.7,147.1 C294.6,142.9 302.5,136.1 306.4,132.9 C310.3,129.7 311.1,128.8 312,128" stroke="#ef8a2e" stroke-dasharray="8,8"/>
<path d="M42,296 C42.7,295 43.6,293.5 46,289.9 C48.4,286.2 52.7,279.7 56.5,274.1 C60.3,268.6 64.7,261.7 68.8,256.6 C72.9,251.5 76.9,247.7 81,243.3 C85.1,238.9 89.2,233.9 93.3,230.4 C97.4,226.9 101.2,225 105.6,222.3 C110,219.7 115.5,216.7 119.6,214.5 C123.7,212.3 126,211.2 130.1,209.3 C134.2,207.4 139.4,205 144.1,203.1 C148.8,201.2 152.6,199.6 158.1,197.9 C163.6,196.2 170.1,195.3 177.1,193.2 C184.1,191.1 191.2,189 200,185.5 C208.8,182 223.5,175.1 230,172 C236.5,168.9 235.9,168.8 238.9,166.7 C241.9,164.6 244.8,162.4 247.8,159.6 C250.8,156.8 253.7,153.2 256.7,149.9 C259.7,146.6 262.7,143.4 265.6,140 C268.6,136.6 271.4,133.2 274.4,129.3 C277.3,125.5 280.3,121.1 283.3,116.9 C286.3,112.8 289.2,108.6 292.2,104.4 C295.2,100.2 298.4,96.1 301.1,92 C303.8,87.9 306.4,82.8 308.2,79.6 C310,76.4 311.4,74.1 312,73" stroke="#a9479c" stroke-dasharray="7,3,2,3,2,3"/>
<path d="M53.4,379 C53.8,376 54.9,366.6 55.9,361 C56.9,355.4 57.9,350.5 59.1,345.2 C60.3,339.9 61.8,334.2 63.1,329.4 C64.4,324.6 65.7,320.7 67,316.3 C68.3,311.9 69.4,307.1 70.8,303.1 C72.2,299.2 73.5,296 75.2,292.6 C76.9,289.2 78.6,287.1 81,282.9 C83.4,278.6 86.9,272.7 89.8,267.1 C92.7,261.6 95.4,255.2 98.6,249.6 C101.8,244 105.6,238.5 109.1,233.8 C112.6,229.1 115.8,225.3 119.6,221.5 C123.4,217.7 127.7,213.9 131.8,211 C135.9,208.1 139.7,206 144.1,204 C148.5,202 152.6,200.6 158.1,198.8 C163.6,197 170.6,195.2 177.1,193.2 C183.6,191.2 190.6,189.4 197,187 C203.4,184.6 209.9,181.6 215.4,178.5 C220.9,175.4 226.2,171.2 230,168.4 C233.8,165.7 234.7,165.2 238,162 C241.3,158.8 246.2,153.2 249.6,148.9 C253,144.6 255.4,140.8 258.4,136.4 C261.3,132 264.3,127.8 267.3,122.2 C270.3,116.6 273.5,109.2 276.2,102.7 C278.9,96.2 281,90.4 283.3,83.1 C285.6,75.8 287.6,67.6 290,59 C292.4,50.4 295.2,40 297.5,31.3 C299.8,22.6 302.8,11.1 303.8,7" stroke="#55c3dd" stroke-dasharray="9,3,2,3,2,3"/>
<path d="M78,379 C78.5,375.1 79.8,362.2 80.8,355.7 C81.8,349.2 82.9,345.4 84.1,339.9 C85.3,334.4 86.7,328.3 88,322.8 C89.3,317.3 90.5,312.1 92,307.1 C93.5,302.1 95.5,297.5 97.2,292.6 C98.9,287.7 99.8,283.6 102.1,277.6 C104.4,271.6 107.9,263 110.8,256.6 C113.7,250.2 116.4,244.4 119.6,239.1 C122.8,233.8 126.6,229.1 130.1,225 C133.6,220.9 136.5,218 140.6,214.5 C144.7,211 148.5,207.6 154.6,204 C160.7,200.4 169.4,196.9 177.1,193.2 C184.8,189.5 195.3,185.2 201,182 C206.7,178.8 207.3,178.3 211,174 C214.7,169.7 219.5,161.7 223,156 C226.5,150.3 229.5,144.7 232,140 C234.5,135.3 236.1,132.3 238,127.6 C239.9,122.9 241.7,116.9 243.3,111.6 C244.9,106.3 246.4,101.7 247.8,95.6 C249.2,89.5 250.6,81.1 252,75 C253.4,68.9 254.3,65.2 256,59 C257.7,52.8 260.2,46.5 262,37.8 C263.8,29.1 265.8,12.1 266.5,7" stroke="#5db545" stroke-dasharray="3,2.2"/>
<path d="M97.9,379 C98.2,375.1 99.1,362.4 99.9,355.7 C100.7,349 101.6,344.1 102.5,338.6 C103.4,333.1 104,328.1 105.1,322.8 C106.2,317.6 107.8,312.4 109.1,307.1 C110.4,301.9 111.8,296.8 113,291.3 C114.2,285.8 114.7,279.3 116.1,274.1 C117.5,268.9 119.3,265.4 121.3,260.1 C123.3,254.9 126,248.2 128.3,242.6 C130.6,237 132.7,231.2 135.3,226.8 C137.9,222.4 140.9,219.5 144.1,216.3 C147.3,213.1 151.4,210.1 154.6,207.5 C157.8,204.9 159.7,202.9 163.4,200.5 C167.2,198.1 171.8,195.8 177.1,193.2 C182.4,190.6 190.3,187.5 195,185 C199.7,182.5 201.7,181.2 205,178 C208.3,174.8 212,170.7 215,166 C218,161.3 220.3,155.2 223,150 C225.7,144.8 228.9,139.1 231,134.5 C233.1,129.9 233.8,126 235.3,122.2 C236.8,118.4 238.3,116.6 239.8,111.6 C241.3,106.6 242.8,98.4 244.2,92 C245.6,85.6 247,79.9 248.2,73.3 C249.4,66.7 250.3,59.3 251.5,52.3 C252.7,45.3 254.1,38.9 255.5,31.3 C256.9,23.8 259.1,11.1 259.8,7" stroke="#e3262b" stroke-dasharray="10,3,2,3"/>
<path d="M113.5,379 C113.8,375.1 114.9,362.4 115.6,355.7 C116.3,349 116.9,344.1 117.6,338.6 C118.3,333.1 118.9,328.1 119.6,322.8 C120.2,317.6 120.6,312.4 121.5,307.1 C122.4,301.9 123.4,297.4 124.8,291.3 C126.2,285.2 128.3,277.6 130.1,270.6 C131.8,263.7 133.6,255.4 135.3,249.6 C137.1,243.8 138.6,240.5 140.6,235.5 C142.6,230.5 145,224.5 147.6,219.8 C150.2,215.1 153.8,210.4 156.4,207.5 C159,204.6 160,204.7 163.4,202.3 C166.8,199.9 173.3,195.3 177.1,193.2 C180.9,191.1 183,190.8 186,189.5 C189,188.2 192,187.4 195,185.5 C198,183.6 201.3,181.2 204,178 C206.7,174.8 208.8,170.3 211,166 C213.2,161.7 215.2,157 217,152 C218.8,147 220.5,142.7 222,136 C223.5,129.3 224.7,120.7 226,112 C227.3,103.3 228.9,91.7 230,84 C231.1,76.3 231.1,78.8 232.5,66 C233.9,53.2 237.5,16.8 238.5,7" stroke="#1c1c1c" stroke-dasharray="8,5.5"/>
<path d="M67.3,379 C67.8,376 69.2,366.6 70.3,361 C71.3,355.4 72.4,350.5 73.6,345.2 C74.8,339.9 76.2,334.2 77.5,329.4 C78.8,324.6 80.2,320.7 81.5,316.3 C82.8,311.9 84.1,307.5 85.6,303.1 C87.1,298.7 88.8,294.2 90.5,290 C92.2,285.8 93.4,282.6 95.6,277.6 C97.8,272.6 100.7,265.9 103.8,260.1 C106.9,254.3 110.8,247.9 114.3,242.6 C117.8,237.3 121,232.9 124.8,228.5 C128.6,224.1 132.7,220.1 137.1,216.3 C141.5,212.5 146.7,208.7 151.1,205.8 C155.5,202.9 159.1,200.9 163.4,198.8 C167.7,196.7 171.8,195 177.1,193.2 C182.4,191.4 189.3,190.2 195,188 C200.7,185.8 206,183 211,180 C216,177 221.3,173.3 225,170 C228.7,166.7 230.6,163.2 233,160 C235.4,156.8 237,154.6 239.5,150.7 C242,146.8 245.2,141.2 247.8,136.4 C250.4,131.7 252.8,126.6 254.9,122.2 C257,117.8 258.4,114.2 260.2,109.8 C262,105.4 264.1,99.8 265.6,95.6 C267.1,91.4 267.9,89.1 269.1,84.9 C270.3,80.8 271.6,75.7 273,70.7 C274.4,65.7 276.3,59.9 277.8,54.9 C279.3,49.9 280.2,48.5 281.8,40.5 C283.4,32.5 286.7,12.6 287.7,7" stroke="#2c4a9e"/>
</g>
<line x1="170" y1="220.5" x2="211.5" y2="220.5" stroke="#1c1c1c" stroke-width="1.8" stroke-dasharray="8.5,7.5"/>
<text x="215.4" y="225.1" font-size="13.5" letter-spacing="0.3" fill="#262626" stroke="#262626" stroke-width="0.18"><tspan font-style="italic">V</tspan><tspan font-size="8.5" dy="3">G</tspan><tspan dy="-3"> = −3.3 V</tspan></text>
<line x1="170" y1="242.4" x2="211.5" y2="242.4" stroke="#e3262b" stroke-width="1.8" stroke-dasharray="10.5,5.5,2.2,5.5"/>
<text x="215.4" y="247" font-size="13.5" letter-spacing="0.3" fill="#262626" stroke="#262626" stroke-width="0.18"><tspan font-style="italic">V</tspan><tspan font-size="8.5" dy="3">G</tspan><tspan dy="-3"> = −2.8 V</tspan></text>
<line x1="170" y1="264.3" x2="211.5" y2="264.3" stroke="#5db545" stroke-width="1.8" stroke-dasharray="3,2.2"/>
<text x="215.4" y="268.9" font-size="13.5" letter-spacing="0.3" fill="#262626" stroke="#262626" stroke-width="0.18"><tspan font-style="italic">V</tspan><tspan font-size="8.5" dy="3">G</tspan><tspan dy="-3"> = −2.6 V</tspan></text>
<line x1="170" y1="286.2" x2="211.5" y2="286.2" stroke="#2c4a9e" stroke-width="1.8"/>
<text x="215.4" y="290.8" font-size="13.5" letter-spacing="0.3" fill="#262626" stroke="#262626" stroke-width="0.18"><tspan font-style="italic">V</tspan><tspan font-size="8.5" dy="3">G</tspan><tspan dy="-3"> = −2.1 V</tspan></text>
<line x1="170" y1="308.1" x2="211.5" y2="308.1" stroke="#55c3dd" stroke-width="1.8" stroke-dasharray="9,3,2,3,2,3"/>
<text x="215.4" y="312.7" font-size="13.5" letter-spacing="0.3" fill="#262626" stroke="#262626" stroke-width="0.18"><tspan font-style="italic">V</tspan><tspan font-size="8.5" dy="3">G</tspan><tspan dy="-3"> = −1.6 V</tspan></text>
<line x1="170" y1="330" x2="211.5" y2="330" stroke="#a9479c" stroke-width="1.8" stroke-dasharray="7,3,2,3,2,3"/>
<text x="215.4" y="334.6" font-size="13.5" letter-spacing="0.3" fill="#262626" stroke="#262626" stroke-width="0.18"><tspan font-style="italic">V</tspan><tspan font-size="8.5" dy="3">G</tspan><tspan dy="-3"> = −1.1 V</tspan></text>
<line x1="170" y1="351.9" x2="211.5" y2="351.9" stroke="#ef8a2e" stroke-width="1.8" stroke-dasharray="8,8"/>
<text x="215.4" y="356.5" font-size="13.5" letter-spacing="0.3" fill="#262626" stroke="#262626" stroke-width="0.18"><tspan font-style="italic">V</tspan><tspan font-size="8.5" dy="3">G</tspan><tspan dy="-3"> = 0.0 V</tspan></text>
<rect x="46.1" y="9.2" width="261.7" height="368.3" fill="none" stroke="#262626" stroke-width="1.6"/>
<line x1="46.1" y1="377.5" x2="53.6" y2="377.5" stroke="#262626" stroke-width="1.5" />
<line x1="307.8" y1="377.5" x2="300.3" y2="377.5" stroke="#262626" stroke-width="1.5" />
<text x="41.8" y="383.8" font-size="14" text-anchor="end" fill="#262626"  stroke="#262626" stroke-width="0.18">−15</text>
<line x1="46.1" y1="316.1" x2="53.6" y2="316.1" stroke="#262626" stroke-width="1.5" />
<line x1="307.8" y1="316.1" x2="300.3" y2="316.1" stroke="#262626" stroke-width="1.5" />
<text x="41.8" y="322.4" font-size="14" text-anchor="end" fill="#262626"  stroke="#262626" stroke-width="0.18">−10</text>
<line x1="46.1" y1="254.7" x2="53.6" y2="254.7" stroke="#262626" stroke-width="1.5" />
<line x1="307.8" y1="254.7" x2="300.3" y2="254.7" stroke="#262626" stroke-width="1.5" />
<text x="41.8" y="261" font-size="14" text-anchor="end" fill="#262626"  stroke="#262626" stroke-width="0.18">−5</text>
<line x1="46.1" y1="193.3" x2="53.6" y2="193.3" stroke="#262626" stroke-width="1.5" />
<line x1="307.8" y1="193.3" x2="300.3" y2="193.3" stroke="#262626" stroke-width="1.5" />
<text x="41.8" y="199.7" font-size="14" text-anchor="end" fill="#262626"  stroke="#262626" stroke-width="0.18">0</text>
<line x1="46.1" y1="132" x2="53.6" y2="132" stroke="#262626" stroke-width="1.5" />
<line x1="307.8" y1="132" x2="300.3" y2="132" stroke="#262626" stroke-width="1.5" />
<text x="41.8" y="138.3" font-size="14" text-anchor="end" fill="#262626"  stroke="#262626" stroke-width="0.18">5</text>
<line x1="46.1" y1="70.6" x2="53.6" y2="70.6" stroke="#262626" stroke-width="1.5" />
<line x1="307.8" y1="70.6" x2="300.3" y2="70.6" stroke="#262626" stroke-width="1.5" />
<text x="41.8" y="76.9" font-size="14" text-anchor="end" fill="#262626"  stroke="#262626" stroke-width="0.18">10</text>
<line x1="46.1" y1="9.2" x2="53.6" y2="9.2" stroke="#262626" stroke-width="1.5" />
<line x1="307.8" y1="9.2" x2="300.3" y2="9.2" stroke="#262626" stroke-width="1.5" />
<text x="41.8" y="15.5" font-size="14" text-anchor="end" fill="#262626"  stroke="#262626" stroke-width="0.18">15</text>
<line x1="46.1" y1="377.5" x2="46.1" y2="370" stroke="#262626" stroke-width="1.5" />
<line x1="46.1" y1="9.2" x2="46.1" y2="16.7" stroke="#262626" stroke-width="1.5" />
<text x="46.1" y="392.4" font-size="14" text-anchor="middle" fill="#262626"  stroke="#262626" stroke-width="0.18">2</text>
<text x="41.9" y="392.4" font-size="14" text-anchor="end" fill="#262626"  stroke="#262626" stroke-width="0.18">−</text>
<line x1="78.9" y1="377.5" x2="78.9" y2="373.5" stroke="#262626" stroke-width="1.5" />
<line x1="78.9" y1="9.2" x2="78.9" y2="13.2" stroke="#262626" stroke-width="1.5" />
<line x1="111.6" y1="377.5" x2="111.6" y2="370" stroke="#262626" stroke-width="1.5" />
<line x1="111.6" y1="9.2" x2="111.6" y2="16.7" stroke="#262626" stroke-width="1.5" />
<text x="111.6" y="392.4" font-size="14" text-anchor="middle" fill="#262626"  stroke="#262626" stroke-width="0.18">1</text>
<text x="107.4" y="392.4" font-size="14" text-anchor="end" fill="#262626"  stroke="#262626" stroke-width="0.18">−</text>
<line x1="144.3" y1="377.5" x2="144.3" y2="373.5" stroke="#262626" stroke-width="1.5" />
<line x1="144.3" y1="9.2" x2="144.3" y2="13.2" stroke="#262626" stroke-width="1.5" />
<line x1="177" y1="377.5" x2="177" y2="370" stroke="#262626" stroke-width="1.5" />
<line x1="177" y1="9.2" x2="177" y2="16.7" stroke="#262626" stroke-width="1.5" />
<text x="177" y="392.4" font-size="14" text-anchor="middle" fill="#262626"  stroke="#262626" stroke-width="0.18">0</text>
<line x1="209.7" y1="377.5" x2="209.7" y2="373.5" stroke="#262626" stroke-width="1.5" />
<line x1="209.7" y1="9.2" x2="209.7" y2="13.2" stroke="#262626" stroke-width="1.5" />
<line x1="242.4" y1="377.5" x2="242.4" y2="370" stroke="#262626" stroke-width="1.5" />
<line x1="242.4" y1="9.2" x2="242.4" y2="16.7" stroke="#262626" stroke-width="1.5" />
<text x="242.4" y="392.4" font-size="14" text-anchor="middle" fill="#262626"  stroke="#262626" stroke-width="0.18">1</text>
<line x1="275.1" y1="377.5" x2="275.1" y2="373.5" stroke="#262626" stroke-width="1.5" />
<line x1="275.1" y1="9.2" x2="275.1" y2="13.2" stroke="#262626" stroke-width="1.5" />
<line x1="307.9" y1="377.5" x2="307.9" y2="370" stroke="#262626" stroke-width="1.5" />
<line x1="307.9" y1="9.2" x2="307.9" y2="16.7" stroke="#262626" stroke-width="1.5" />
<text x="307.9" y="392.4" font-size="14" text-anchor="middle" fill="#262626"  stroke="#262626" stroke-width="0.18">2</text>
<text x="177.5" y="407.5" font-size="13" text-anchor="middle" fill="#262626"  stroke="#262626" stroke-width="0.18"><tspan font-style="italic">V</tspan> (V)</text>
<text transform="translate(13.4,196) rotate(-90)" font-size="13" text-anchor="middle" fill="#262626" stroke="#262626" stroke-width="0.18"><tspan font-style="italic">I</tspan> (nA)</text>
<text x="4.8" y="14.2" font-size="16.5" font-weight="bold" fill="#111" stroke="#111" stroke-width="0.6">a</text>
<rect x="410.8" y="9.2" width="20" height="368.5" fill="#cde8f4"/>
<g fill="none" stroke-width="1.6" stroke-linejoin="round">
<path d="M412.9,52.2 C413,54 413.3,59.7 413.6,63 C413.9,66.3 414.1,69 414.6,72 C415.1,75 415.9,78.6 416.6,81 C417.3,83.4 418.2,85.2 419,86.5 C419.8,87.8 420.5,88.8 421.5,89 C422.5,89.2 423.8,88.5 425,88 C426.2,87.5 427.1,87 428.9,86.3 C430.7,85.6 433.5,84.7 436,83.8 C438.5,82.9 440.4,82 443.7,81.1 C447,80.2 451.9,79.4 455.6,78.3 C459.3,77.2 461.8,75.7 465.9,74.7 C470,73.7 472.7,73.4 480,72.2 C487.3,71 494.5,69.2 509.5,67.4 C524.5,65.6 549.5,63.3 570,61.5 C590.5,59.7 622.1,57.2 632.5,56.4" stroke="#1c1c1c"/>
<path d="M413.3,102.6 C413.4,104.3 413.7,109.9 414,113 C414.3,116.1 414.5,118.7 415,121 C415.5,123.3 416.2,125.6 417,127 C417.8,128.4 418.7,129.2 420,129.4 C421.3,129.7 423.3,129.1 425,128.5 C426.7,127.9 428.1,127.1 430,126 C431.9,124.9 433.2,123.5 436.5,122.1 C439.8,120.7 443.9,119.3 450,117.5 C456.1,115.7 463.1,113.5 473,111.2 C482.9,108.9 493.3,106.2 509.5,103.9 C525.7,101.6 549.5,99.5 570,97.5 C590.5,95.5 622.1,92.8 632.5,91.8" stroke="#e3262b"/>
<path d="M412.8,149.5 C412.9,150.8 413.2,154.8 413.5,157 C413.8,159.2 414.1,161.3 414.7,163 C415.3,164.7 415.9,166.1 417,167 C418.1,167.9 419.7,168.6 421.2,168.5 C422.7,168.4 423.4,167.8 426,166.5 C428.6,165.2 432.5,162.3 436.5,160.4 C440.5,158.5 443.9,157.1 450,155 C456.1,152.9 463.1,150.4 473,147.7 C482.9,144.9 493.3,141.2 509.5,138.5 C525.7,135.8 549.5,133.6 570,131.5 C590.5,129.4 622.1,126.8 632.5,125.8" stroke="#5db545"/>
<path d="M413.1,200.6 C413.2,201.7 413.4,205.1 413.6,207 C413.9,208.9 414.3,210.8 414.6,212 C414.9,213.2 415,214.2 415.6,214.5 C416.2,214.8 416.8,214.1 418,213.5 C419.2,212.9 420.6,212.1 422.6,210.7 C424.6,209.3 426.8,207.3 430.2,205.1 C433.6,202.9 438,200.1 442.8,197.6 C447.6,195.1 454.2,192 459.2,190 C464.2,188 466.2,187.5 473,185.5 C479.8,183.5 490.9,180.3 500,178 C509.1,175.7 514.4,174 527.7,171.9 C541,169.8 562.5,167.4 580,165.5 C597.5,163.6 623.8,161.1 632.5,160.2" stroke="#2c4a9e"/>
<path d="M413.1,249.2 C413.2,250 413.4,252.4 413.7,254 C414,255.6 414.2,258.1 415.1,258.6 C416,259.1 417.4,257.9 418.9,256.8 C420.4,255.7 422.1,253.7 424,252 C425.9,250.3 427.1,249.3 430.2,246.7 C433.3,244.1 436.5,240.2 442.8,236.6 C449.1,233 460.4,228.5 468,225.3 C475.6,222.2 478.7,220.3 488.2,217.7 C497.7,215.1 509.7,212.3 525,209.7 C540.3,207.1 562.1,204.3 580,202 C597.9,199.7 623.8,196.7 632.5,195.6" stroke="#56c2dc"/>
<path d="M412.6,303.4 C413.2,303.6 415.2,305.4 416.3,304.7 C417.4,304 417.9,300.9 419,299 C420.1,297.1 420.7,295.8 422.6,293.4 C424.5,291 426.8,287.9 430.2,284.5 C433.6,281.1 436.5,277.2 442.8,273.2 C449.1,269.2 459.6,264.2 468,260.6 C476.4,257 483.7,254.4 493.2,251.8 C502.7,249.2 510.5,247.4 525,245 C539.5,242.6 562.1,239.8 580,237.5 C597.9,235.2 623.8,232.1 632.5,231" stroke="#ad44a4"/>
<path d="M412.6,351.3 C412.8,350.6 413.5,348.7 414,347 C414.5,345.3 415,342.6 415.5,341 C416,339.4 416.2,338.8 417,337.5 C417.8,336.2 418.7,335 420,333.5 C421.3,332 423.3,330.2 425,328.5 C426.7,326.8 428.4,325.2 430.2,323.5 C432,321.8 433.9,320.2 436,318.3 C438.1,316.4 437.5,315.6 442.8,312.3 C448.1,309 459.6,302.2 468,298.4 C476.4,294.6 483.7,292.2 493.2,289.6 C502.7,287 510.5,285.3 525,282.8 C539.5,280.3 562.1,277.1 580,274.5 C597.9,271.9 623.8,268.7 632.5,267.5" stroke="#ef8a2e"/>
</g>
<line x1="420" y1="96" x2="420" y2="107" stroke="#1c1c1c" stroke-width="1.4" />
<polygon points="417.6,97.5 420,93 422.4,97.5" fill="#1c1c1c"/>
<line x1="419.5" y1="141" x2="419.5" y2="151" stroke="#e3262b" stroke-width="1.4" />
<polygon points="417.1,142.5 419.5,138 421.9,142.5" fill="#e3262b"/>
<line x1="416.4" y1="178.5" x2="416.4" y2="188.3" stroke="#5db545" stroke-width="1.4" />
<polygon points="414,180 416.4,175.5 418.8,180" fill="#5db545"/>
<line x1="415.1" y1="222" x2="415.1" y2="232.9" stroke="#2c4a9e" stroke-width="1.4" />
<polygon points="412.7,223.5 415.1,219 417.5,223.5" fill="#2c4a9e"/>
<line x1="415.1" y1="267.4" x2="415.1" y2="278.2" stroke="#56c2dc" stroke-width="1.4" />
<polygon points="412.7,268.9 415.1,264.4 417.5,268.9" fill="#56c2dc"/>
<line x1="414.6" y1="315.3" x2="414.6" y2="326.1" stroke="#ad44a4" stroke-width="1.4" />
<polygon points="412.2,316.8 414.6,312.3 417,316.8" fill="#ad44a4"/>
<text x="545.6" y="80.4" font-size="13.5" letter-spacing="0.3" fill="#262626" stroke="#262626" stroke-width="0.18"><tspan font-style="italic">V</tspan><tspan font-size="8.5" dy="3">G</tspan><tspan dy="-3"> = −3.3 V</tspan></text>
<text x="545.6" y="115.9" font-size="13.5" letter-spacing="0.3" fill="#262626" stroke="#262626" stroke-width="0.18"><tspan font-style="italic">V</tspan><tspan font-size="8.5" dy="3">G</tspan><tspan dy="-3"> = −2.8 V</tspan></text>
<text x="545.6" y="151.3" font-size="13.5" letter-spacing="0.3" fill="#262626" stroke="#262626" stroke-width="0.18"><tspan font-style="italic">V</tspan><tspan font-size="8.5" dy="3">G</tspan><tspan dy="-3"> = −2.6 V</tspan></text>
<text x="545.6" y="186.8" font-size="13.5" letter-spacing="0.3" fill="#262626" stroke="#262626" stroke-width="0.18"><tspan font-style="italic">V</tspan><tspan font-size="8.5" dy="3">G</tspan><tspan dy="-3"> = −2.1 V</tspan></text>
<text x="545.6" y="222.3" font-size="13.5" letter-spacing="0.3" fill="#262626" stroke="#262626" stroke-width="0.18"><tspan font-style="italic">V</tspan><tspan font-size="8.5" dy="3">G</tspan><tspan dy="-3"> = −1.6 V</tspan></text>
<text x="545.6" y="257.8" font-size="13.5" letter-spacing="0.3" fill="#262626" stroke="#262626" stroke-width="0.18"><tspan font-style="italic">V</tspan><tspan font-size="8.5" dy="3">G</tspan><tspan dy="-3"> = −1.1 V</tspan></text>
<text x="545.6" y="293.2" font-size="13.5" letter-spacing="0.3" fill="#262626" stroke="#262626" stroke-width="0.18"><tspan font-style="italic">V</tspan><tspan font-size="8.5" dy="3">G</tspan><tspan dy="-3"> = 0.0 V</tspan></text>
<rect x="381" y="9.2" width="262.79999999999995" height="368.5" fill="none" stroke="#262626" stroke-width="1.6"/>
<line x1="381" y1="34.3" x2="388.5" y2="34.3" stroke="#262626" stroke-width="1.5" />
<line x1="643.8" y1="34.3" x2="636.3" y2="34.3" stroke="#262626" stroke-width="1.5" />
<text x="376.4" y="39.2" font-size="14" text-anchor="end" fill="#262626"  stroke="#262626" stroke-width="0.18">−8</text>
<line x1="381" y1="83.4" x2="388.5" y2="83.4" stroke="#262626" stroke-width="1.5" />
<line x1="643.8" y1="83.4" x2="636.3" y2="83.4" stroke="#262626" stroke-width="1.5" />
<text x="376.4" y="88.3" font-size="14" text-anchor="end" fill="#262626"  stroke="#262626" stroke-width="0.18">−10</text>
<line x1="381" y1="132.4" x2="388.5" y2="132.4" stroke="#262626" stroke-width="1.5" />
<line x1="643.8" y1="132.4" x2="636.3" y2="132.4" stroke="#262626" stroke-width="1.5" />
<text x="376.4" y="137.3" font-size="14" text-anchor="end" fill="#262626"  stroke="#262626" stroke-width="0.18">−12</text>
<line x1="381" y1="181.5" x2="388.5" y2="181.5" stroke="#262626" stroke-width="1.5" />
<line x1="643.8" y1="181.5" x2="636.3" y2="181.5" stroke="#262626" stroke-width="1.5" />
<text x="376.4" y="186.4" font-size="14" text-anchor="end" fill="#262626"  stroke="#262626" stroke-width="0.18">−14</text>
<line x1="381" y1="230.5" x2="388.5" y2="230.5" stroke="#262626" stroke-width="1.5" />
<line x1="643.8" y1="230.5" x2="636.3" y2="230.5" stroke="#262626" stroke-width="1.5" />
<text x="376.4" y="235.4" font-size="14" text-anchor="end" fill="#262626"  stroke="#262626" stroke-width="0.18">−16</text>
<line x1="381" y1="279.6" x2="388.5" y2="279.6" stroke="#262626" stroke-width="1.5" />
<line x1="643.8" y1="279.6" x2="636.3" y2="279.6" stroke="#262626" stroke-width="1.5" />
<text x="376.4" y="284.5" font-size="14" text-anchor="end" fill="#262626"  stroke="#262626" stroke-width="0.18">−18</text>
<line x1="381" y1="328.7" x2="388.5" y2="328.7" stroke="#262626" stroke-width="1.5" />
<line x1="643.8" y1="328.7" x2="636.3" y2="328.7" stroke="#262626" stroke-width="1.5" />
<text x="376.4" y="333.6" font-size="14" text-anchor="end" fill="#262626"  stroke="#262626" stroke-width="0.18">−20</text>
<line x1="381" y1="377.7" x2="388.5" y2="377.7" stroke="#262626" stroke-width="1.5" />
<line x1="643.8" y1="377.7" x2="636.3" y2="377.7" stroke="#262626" stroke-width="1.5" />
<text x="376.4" y="382.6" font-size="14" text-anchor="end" fill="#262626"  stroke="#262626" stroke-width="0.18">−22</text>
<line x1="410.8" y1="377.7" x2="410.8" y2="370.2" stroke="#262626" stroke-width="1.5" />
<line x1="410.8" y1="9.2" x2="410.8" y2="16.7" stroke="#262626" stroke-width="1.5" />
<text x="410.8" y="392.3" font-size="14" text-anchor="middle" fill="#262626"  stroke="#262626" stroke-width="0.18">0</text>
<line x1="477.3" y1="377.7" x2="477.3" y2="370.2" stroke="#262626" stroke-width="1.5" />
<line x1="477.3" y1="9.2" x2="477.3" y2="16.7" stroke="#262626" stroke-width="1.5" />
<text x="477.3" y="392.3" font-size="14" text-anchor="middle" fill="#262626"  stroke="#262626" stroke-width="0.18">10</text>
<line x1="543.7" y1="377.7" x2="543.7" y2="370.2" stroke="#262626" stroke-width="1.5" />
<line x1="543.7" y1="9.2" x2="543.7" y2="16.7" stroke="#262626" stroke-width="1.5" />
<text x="543.7" y="392.3" font-size="14" text-anchor="middle" fill="#262626"  stroke="#262626" stroke-width="0.18">20</text>
<line x1="610.2" y1="377.7" x2="610.2" y2="370.2" stroke="#262626" stroke-width="1.5" />
<line x1="610.2" y1="9.2" x2="610.2" y2="16.7" stroke="#262626" stroke-width="1.5" />
<text x="610.2" y="392.3" font-size="14" text-anchor="middle" fill="#262626"  stroke="#262626" stroke-width="0.18">30</text>
<text x="509.5" y="408" font-size="13" text-anchor="middle" fill="#262626"  stroke="#262626" stroke-width="0.18">1/<tspan font-style="italic">V</tspan> (V<tspan font-size="8.5" dy="-5">−1</tspan><tspan dy="5">)</tspan></text>
<text transform="translate(345.2,201.5) rotate(-90)" font-size="13.6" text-anchor="middle" fill="#262626" stroke="#262626" stroke-width="0.18">ln(<tspan font-style="italic">I</tspan>/<tspan font-style="italic">V</tspan><tspan font-size="8.5" dy="-5">2</tspan><tspan dy="5">)</tspan></text>
<text x="334.3" y="14.4" font-size="16.5" font-weight="bold" fill="#111" stroke="#111" stroke-width="0.6">b</text>
<rect x="52.2" y="452.6" width="40.5" height="71.1" fill="#fcc20f"/>
<rect x="144.6" y="452.6" width="40.1" height="71.1" fill="#fcc20f"/>
<rect x="93.6" y="490" width="50" height="20" fill="url(#homo)"/>
<text x="72" y="493.5" font-size="15" text-anchor="middle" fill="#222"  stroke="#222" stroke-width="0.18">S</text>
<text x="163.8" y="493.5" font-size="15" text-anchor="middle" fill="#222"  stroke="#222" stroke-width="0.18">D</text>
<text x="54.6" y="450.8" font-size="11.5" text-anchor="start" fill="#222"  stroke="#222" stroke-width="0.18">eV</text>
<line x1="73.5" y1="442.9" x2="73.5" y2="449.5" stroke="#222" stroke-width="1.0" />
<polygon points="71.5,443.5 73.5,440.5 75.5,443.5" fill="#222"/>
<polygon points="71.5,448.9 73.5,451.9 75.5,448.9" fill="#222"/>
<line x1="96.5" y1="453" x2="138" y2="453" stroke="#3a3a9e" stroke-width="1.1" stroke-dasharray="3.5,2.5"/>
<polygon points="137,450.3 142,453 137,455.7" fill="#3a3a9e"/>
<circle cx="118.4" cy="447.4" r="2.1" fill="none" stroke="#3a3a9e" stroke-width="0.9"/>
<line x1="117.3" y1="458.4" x2="117.3" y2="484.8" stroke="#222" stroke-width="1.0" />
<polygon points="115,459.2 117.3,455.2 119.6,459.2" fill="#222"/>
<polygon points="115,484 117.3,488 119.6,484" fill="#222"/>
<text x="120.5" y="474.9" font-size="12" text-anchor="start" fill="#222"  stroke="#222" stroke-width="0.18"><tspan font-style="italic">Φ</tspan><tspan font-size="8.5" dy="2.5">B</tspan></text>
<text x="158.9" y="449.5" font-size="12" text-anchor="start" fill="#222"  stroke="#222" stroke-width="0.18"><tspan font-style="italic">E</tspan><tspan font-size="8.5" dy="2.5">F</tspan></text>
<line x1="97.6" y1="494.8" x2="97.6" y2="505.6" stroke="#222" stroke-width="1.0" />
<polygon points="95.6,495.5 97.6,492 99.6,495.5" fill="#222"/>
<polygon points="95.6,504.9 97.6,508.4 99.6,504.9" fill="#222"/>
<text x="100.8" y="503" font-size="10" text-anchor="start" fill="#3a1010"  stroke="#3a1010" stroke-width="0.18"><tspan font-style="italic">eV</tspan><tspan font-size="6.5" dy="2.5">G,eff</tspan></text>
<text x="119" y="523" font-size="11.5" text-anchor="middle" fill="#222"  stroke="#222" stroke-width="0.18">HOMO</text>
<g clip-path="url(#clipC)">
<line x1="40" y1="620.5" x2="315" y2="456.3" stroke="#1c1c1c" stroke-width="1.4" />
<line x1="45" y1="607.8" x2="45" y2="625.8" stroke="#3a3a3a" stroke-width="1.1"/>
<line x1="41.8" y1="607.8" x2="48.2" y2="607.8" stroke="#3a3a3a" stroke-width="1.1"/>
<line x1="41.8" y1="625.8" x2="48.2" y2="625.8" stroke="#3a3a3a" stroke-width="1.1"/>
<line x1="57.1" y1="603.5" x2="57.1" y2="624.5" stroke="#3a3a3a" stroke-width="1.1"/>
<line x1="53.9" y1="603.5" x2="60.3" y2="603.5" stroke="#3a3a3a" stroke-width="1.1"/>
<line x1="53.9" y1="624.5" x2="60.3" y2="624.5" stroke="#3a3a3a" stroke-width="1.1"/>
<line x1="69.2" y1="592.7" x2="69.2" y2="621" stroke="#3a3a3a" stroke-width="1.1"/>
<line x1="66" y1="592.7" x2="72.4" y2="592.7" stroke="#3a3a3a" stroke-width="1.1"/>
<line x1="66" y1="621" x2="72.4" y2="621" stroke="#3a3a3a" stroke-width="1.1"/>
<line x1="81.3" y1="594.6" x2="81.3" y2="616.1" stroke="#3a3a3a" stroke-width="1.1"/>
<line x1="78.1" y1="594.6" x2="84.5" y2="594.6" stroke="#3a3a3a" stroke-width="1.1"/>
<line x1="78.1" y1="616.1" x2="84.5" y2="616.1" stroke="#3a3a3a" stroke-width="1.1"/>
<line x1="93.3" y1="577.8" x2="93.3" y2="607.9" stroke="#3a3a3a" stroke-width="1.1"/>
<line x1="90.1" y1="577.8" x2="96.5" y2="577.8" stroke="#3a3a3a" stroke-width="1.1"/>
<line x1="90.1" y1="607.9" x2="96.5" y2="607.9" stroke="#3a3a3a" stroke-width="1.1"/>
<line x1="105.4" y1="566.1" x2="105.4" y2="588" stroke="#3a3a3a" stroke-width="1.1"/>
<line x1="102.2" y1="566.1" x2="108.6" y2="566.1" stroke="#3a3a3a" stroke-width="1.1"/>
<line x1="102.2" y1="588" x2="108.6" y2="588" stroke="#3a3a3a" stroke-width="1.1"/>
<line x1="117.6" y1="562.4" x2="117.6" y2="589" stroke="#3a3a3a" stroke-width="1.1"/>
<line x1="114.4" y1="562.4" x2="120.8" y2="562.4" stroke="#3a3a3a" stroke-width="1.1"/>
<line x1="114.4" y1="589" x2="120.8" y2="589" stroke="#3a3a3a" stroke-width="1.1"/>
<line x1="129.5" y1="555.6" x2="129.5" y2="577.1" stroke="#3a3a3a" stroke-width="1.1"/>
<line x1="126.3" y1="555.6" x2="132.7" y2="555.6" stroke="#3a3a3a" stroke-width="1.1"/>
<line x1="126.3" y1="577.1" x2="132.7" y2="577.1" stroke="#3a3a3a" stroke-width="1.1"/>
<line x1="141.1" y1="547.9" x2="141.1" y2="580.6" stroke="#3a3a3a" stroke-width="1.1"/>
<line x1="137.9" y1="547.9" x2="144.3" y2="547.9" stroke="#3a3a3a" stroke-width="1.1"/>
<line x1="137.9" y1="580.6" x2="144.3" y2="580.6" stroke="#3a3a3a" stroke-width="1.1"/>
<line x1="153.3" y1="542.7" x2="153.3" y2="568.2" stroke="#3a3a3a" stroke-width="1.1"/>
<line x1="150.1" y1="542.7" x2="156.5" y2="542.7" stroke="#3a3a3a" stroke-width="1.1"/>
<line x1="150.1" y1="568.2" x2="156.5" y2="568.2" stroke="#3a3a3a" stroke-width="1.1"/>
<line x1="165.4" y1="533.4" x2="165.4" y2="550.9" stroke="#3a3a3a" stroke-width="1.1"/>
<line x1="162.2" y1="533.4" x2="168.6" y2="533.4" stroke="#3a3a3a" stroke-width="1.1"/>
<line x1="162.2" y1="550.9" x2="168.6" y2="550.9" stroke="#3a3a3a" stroke-width="1.1"/>
<line x1="177.4" y1="529.7" x2="177.4" y2="551.9" stroke="#3a3a3a" stroke-width="1.1"/>
<line x1="174.2" y1="529.7" x2="180.6" y2="529.7" stroke="#3a3a3a" stroke-width="1.1"/>
<line x1="174.2" y1="551.9" x2="180.6" y2="551.9" stroke="#3a3a3a" stroke-width="1.1"/>
<line x1="189.6" y1="517.5" x2="189.6" y2="541.6" stroke="#3a3a3a" stroke-width="1.1"/>
<line x1="186.4" y1="517.5" x2="192.8" y2="517.5" stroke="#3a3a3a" stroke-width="1.1"/>
<line x1="186.4" y1="541.6" x2="192.8" y2="541.6" stroke="#3a3a3a" stroke-width="1.1"/>
<line x1="201.6" y1="512.8" x2="201.6" y2="536.9" stroke="#3a3a3a" stroke-width="1.1"/>
<line x1="198.4" y1="512.8" x2="204.8" y2="512.8" stroke="#3a3a3a" stroke-width="1.1"/>
<line x1="198.4" y1="536.9" x2="204.8" y2="536.9" stroke="#3a3a3a" stroke-width="1.1"/>
<line x1="213.4" y1="504.5" x2="213.4" y2="528.2" stroke="#3a3a3a" stroke-width="1.1"/>
<line x1="210.2" y1="504.5" x2="216.6" y2="504.5" stroke="#3a3a3a" stroke-width="1.1"/>
<line x1="210.2" y1="528.2" x2="216.6" y2="528.2" stroke="#3a3a3a" stroke-width="1.1"/>
<line x1="225.7" y1="501" x2="225.7" y2="528.2" stroke="#3a3a3a" stroke-width="1.1"/>
<line x1="222.5" y1="501" x2="228.9" y2="501" stroke="#3a3a3a" stroke-width="1.1"/>
<line x1="222.5" y1="528.2" x2="228.9" y2="528.2" stroke="#3a3a3a" stroke-width="1.1"/>
<line x1="237.5" y1="485.1" x2="237.5" y2="517" stroke="#3a3a3a" stroke-width="1.1"/>
<line x1="234.3" y1="485.1" x2="240.7" y2="485.1" stroke="#3a3a3a" stroke-width="1.1"/>
<line x1="234.3" y1="517" x2="240.7" y2="517" stroke="#3a3a3a" stroke-width="1.1"/>
<line x1="249.8" y1="477.3" x2="249.8" y2="507.6" stroke="#3a3a3a" stroke-width="1.1"/>
<line x1="246.6" y1="477.3" x2="253" y2="477.3" stroke="#3a3a3a" stroke-width="1.1"/>
<line x1="246.6" y1="507.6" x2="253" y2="507.6" stroke="#3a3a3a" stroke-width="1.1"/>
<line x1="261.6" y1="472.6" x2="261.6" y2="502.1" stroke="#3a3a3a" stroke-width="1.1"/>
<line x1="258.4" y1="472.6" x2="264.8" y2="472.6" stroke="#3a3a3a" stroke-width="1.1"/>
<line x1="258.4" y1="502.1" x2="264.8" y2="502.1" stroke="#3a3a3a" stroke-width="1.1"/>
<line x1="273.5" y1="471.4" x2="273.5" y2="499.3" stroke="#3a3a3a" stroke-width="1.1"/>
<line x1="270.3" y1="471.4" x2="276.7" y2="471.4" stroke="#3a3a3a" stroke-width="1.1"/>
<line x1="270.3" y1="499.3" x2="276.7" y2="499.3" stroke="#3a3a3a" stroke-width="1.1"/>
<line x1="285.5" y1="465.5" x2="285.5" y2="488" stroke="#3a3a3a" stroke-width="1.1"/>
<line x1="282.3" y1="465.5" x2="288.7" y2="465.5" stroke="#3a3a3a" stroke-width="1.1"/>
<line x1="282.3" y1="488" x2="288.7" y2="488" stroke="#3a3a3a" stroke-width="1.1"/>
<line x1="297.8" y1="457.7" x2="297.8" y2="490.3" stroke="#3a3a3a" stroke-width="1.1"/>
<line x1="294.6" y1="457.7" x2="301" y2="457.7" stroke="#3a3a3a" stroke-width="1.1"/>
<line x1="294.6" y1="490.3" x2="301" y2="490.3" stroke="#3a3a3a" stroke-width="1.1"/>
<line x1="309.3" y1="444.2" x2="309.3" y2="466" stroke="#3a3a3a" stroke-width="1.1"/>
<line x1="306.1" y1="444.2" x2="312.5" y2="444.2" stroke="#3a3a3a" stroke-width="1.1"/>
<line x1="306.1" y1="466" x2="312.5" y2="466" stroke="#3a3a3a" stroke-width="1.1"/>
<rect x="41.8" y="613.5" width="6.6" height="6.6" fill="#1a1a1a"/>
<rect x="53.8" y="610.7" width="6.6" height="6.6" fill="#1a1a1a"/>
<rect x="65.9" y="603.4" width="6.6" height="6.6" fill="#1a1a1a"/>
<rect x="78" y="602.3" width="6.6" height="6.6" fill="#1a1a1a"/>
<rect x="90" y="589.4" width="6.6" height="6.6" fill="#1a1a1a"/>
<rect x="102.1" y="573.8" width="6.6" height="6.6" fill="#1a1a1a"/>
<rect x="114.3" y="571.9" width="6.6" height="6.6" fill="#1a1a1a"/>
<rect x="126.2" y="563.3" width="6.6" height="6.6" fill="#1a1a1a"/>
<rect x="137.8" y="560.5" width="6.6" height="6.6" fill="#1a1a1a"/>
<rect x="150" y="552.1" width="6.6" height="6.6" fill="#1a1a1a"/>
<rect x="162.1" y="538.7" width="6.6" height="6.6" fill="#1a1a1a"/>
<rect x="174.1" y="537.5" width="6.6" height="6.6" fill="#1a1a1a"/>
<rect x="186.3" y="526.5" width="6.6" height="6.6" fill="#1a1a1a"/>
<rect x="198.3" y="521.3" width="6.6" height="6.6" fill="#1a1a1a"/>
<rect x="210.1" y="513" width="6.6" height="6.6" fill="#1a1a1a"/>
<rect x="222.4" y="511.1" width="6.6" height="6.6" fill="#1a1a1a"/>
<rect x="234.2" y="497.7" width="6.6" height="6.6" fill="#1a1a1a"/>
<rect x="246.5" y="489.4" width="6.6" height="6.6" fill="#1a1a1a"/>
<rect x="258.3" y="483.5" width="6.6" height="6.6" fill="#1a1a1a"/>
<rect x="270.2" y="482.3" width="6.6" height="6.6" fill="#1a1a1a"/>
<rect x="282.2" y="473.3" width="6.6" height="6.6" fill="#1a1a1a"/>
<rect x="294.5" y="470.5" width="6.6" height="6.6" fill="#1a1a1a"/>
<rect x="306" y="451.5" width="6.6" height="6.6" fill="#1a1a1a"/>
</g>
<polyline points="158.3,552.5 196.8,552.5 196.8,529.3" fill="none" stroke="#3a3a9e" stroke-width="1" stroke-dasharray="1.3,1.3"/>
<text x="203" y="557" font-size="14" text-anchor="start" fill="#3a3a9e"  stroke="#3a3a9e" stroke-width="0.18"><tspan font-style="italic" font-family="Liberation Serif" font-size="16">α</tspan> = +0.25</text>
<rect x="45.8" y="432.2" width="263.7" height="200.59999999999997" fill="none" stroke="#262626" stroke-width="1.6"/>
<line x1="45.8" y1="618.1" x2="52.8" y2="618.1" stroke="#262626" stroke-width="1.5" />
<line x1="309.5" y1="618.1" x2="302.5" y2="618.1" stroke="#262626" stroke-width="1.5" />
<text x="41" y="624.4" font-size="14" text-anchor="end" fill="#262626"  stroke="#262626" stroke-width="0.18">1.1</text>
<line x1="45.8" y1="589.4" x2="52.8" y2="589.4" stroke="#262626" stroke-width="1.5" />
<line x1="309.5" y1="589.4" x2="302.5" y2="589.4" stroke="#262626" stroke-width="1.5" />
<text x="41" y="595.7" font-size="14" text-anchor="end" fill="#262626"  stroke="#262626" stroke-width="0.18">1.2</text>
<line x1="45.8" y1="560.7" x2="52.8" y2="560.7" stroke="#262626" stroke-width="1.5" />
<line x1="309.5" y1="560.7" x2="302.5" y2="560.7" stroke="#262626" stroke-width="1.5" />
<text x="41" y="567" font-size="14" text-anchor="end" fill="#262626"  stroke="#262626" stroke-width="0.18">1.3</text>
<line x1="45.8" y1="532" x2="52.8" y2="532" stroke="#262626" stroke-width="1.5" />
<line x1="309.5" y1="532" x2="302.5" y2="532" stroke="#262626" stroke-width="1.5" />
<text x="41" y="538.3" font-size="14" text-anchor="end" fill="#262626"  stroke="#262626" stroke-width="0.18">1.4</text>
<line x1="45.8" y1="503.3" x2="52.8" y2="503.3" stroke="#262626" stroke-width="1.5" />
<line x1="309.5" y1="503.3" x2="302.5" y2="503.3" stroke="#262626" stroke-width="1.5" />
<text x="41" y="509.6" font-size="14" text-anchor="end" fill="#262626"  stroke="#262626" stroke-width="0.18">1.5</text>
<line x1="45.8" y1="474.6" x2="52.8" y2="474.6" stroke="#262626" stroke-width="1.5" />
<line x1="309.5" y1="474.6" x2="302.5" y2="474.6" stroke="#262626" stroke-width="1.5" />
<text x="41" y="480.9" font-size="14" text-anchor="end" fill="#262626"  stroke="#262626" stroke-width="0.18">1.6</text>
<line x1="45.8" y1="445.9" x2="52.8" y2="445.9" stroke="#262626" stroke-width="1.5" />
<line x1="309.5" y1="445.9" x2="302.5" y2="445.9" stroke="#262626" stroke-width="1.5" />
<text x="41" y="452.2" font-size="14" text-anchor="end" fill="#262626"  stroke="#262626" stroke-width="0.18">1.7</text>
<line x1="57.1" y1="632.8" x2="57.1" y2="625.8" stroke="#262626" stroke-width="1.5" />
<line x1="57.1" y1="432.2" x2="57.1" y2="439.2" stroke="#262626" stroke-width="1.5" />
<text x="58.1" y="649.4" font-size="14" text-anchor="middle" fill="#262626"  stroke="#262626" stroke-width="0.18">3.2</text>
<text x="48.1" y="649.4" font-size="14" text-anchor="end" fill="#262626"  stroke="#262626" stroke-width="0.18">−</text>
<line x1="105.3" y1="632.8" x2="105.3" y2="625.8" stroke="#262626" stroke-width="1.5" />
<line x1="105.3" y1="432.2" x2="105.3" y2="439.2" stroke="#262626" stroke-width="1.5" />
<text x="106.3" y="649.4" font-size="14" text-anchor="middle" fill="#262626"  stroke="#262626" stroke-width="0.18">2.8</text>
<text x="96.3" y="649.4" font-size="14" text-anchor="end" fill="#262626"  stroke="#262626" stroke-width="0.18">−</text>
<line x1="153.5" y1="632.8" x2="153.5" y2="625.8" stroke="#262626" stroke-width="1.5" />
<line x1="153.5" y1="432.2" x2="153.5" y2="439.2" stroke="#262626" stroke-width="1.5" />
<text x="154.5" y="649.4" font-size="14" text-anchor="middle" fill="#262626"  stroke="#262626" stroke-width="0.18">2.4</text>
<text x="144.5" y="649.4" font-size="14" text-anchor="end" fill="#262626"  stroke="#262626" stroke-width="0.18">−</text>
<line x1="201.7" y1="632.8" x2="201.7" y2="625.8" stroke="#262626" stroke-width="1.5" />
<line x1="201.7" y1="432.2" x2="201.7" y2="439.2" stroke="#262626" stroke-width="1.5" />
<text x="202.7" y="649.4" font-size="14" text-anchor="middle" fill="#262626"  stroke="#262626" stroke-width="0.18">2.0</text>
<text x="192.7" y="649.4" font-size="14" text-anchor="end" fill="#262626"  stroke="#262626" stroke-width="0.18">−</text>
<line x1="249.9" y1="632.8" x2="249.9" y2="625.8" stroke="#262626" stroke-width="1.5" />
<line x1="249.9" y1="432.2" x2="249.9" y2="439.2" stroke="#262626" stroke-width="1.5" />
<text x="250.9" y="649.4" font-size="14" text-anchor="middle" fill="#262626"  stroke="#262626" stroke-width="0.18">1.6</text>
<text x="240.9" y="649.4" font-size="14" text-anchor="end" fill="#262626"  stroke="#262626" stroke-width="0.18">−</text>
<line x1="298.1" y1="632.8" x2="298.1" y2="625.8" stroke="#262626" stroke-width="1.5" />
<line x1="298.1" y1="432.2" x2="298.1" y2="439.2" stroke="#262626" stroke-width="1.5" />
<text x="299.1" y="649.4" font-size="14" text-anchor="middle" fill="#262626"  stroke="#262626" stroke-width="0.18">1.2</text>
<text x="289.1" y="649.4" font-size="14" text-anchor="end" fill="#262626"  stroke="#262626" stroke-width="0.18">−</text>
<text x="179.4" y="667.5" font-size="13.6" text-anchor="middle" fill="#262626"  stroke="#262626" stroke-width="0.18"><tspan font-style="italic">V</tspan><tspan font-size="9" dy="3.5">G</tspan><tspan dy="-3.5"> (V)</tspan></text>
<text transform="translate(12.2,532) rotate(-90)" font-size="13" text-anchor="middle" fill="#262626" stroke="#262626" stroke-width="0.18"><tspan font-style="italic">V</tspan><tspan font-size="8.5" dy="3">trans</tspan><tspan dy="-3"> (V)</tspan></text>
<text x="4.8" y="438.6" font-size="16.5" font-weight="bold" fill="#111" stroke="#111" stroke-width="0.6">c</text>
<rect x="379.2" y="431.6" width="168.2" height="2.3" fill="url(#h0)"/>
<rect x="379.2" y="433.6" width="168.2" height="2.3" fill="url(#h1)"/>
<rect x="379.2" y="435.6" width="168.2" height="2.3" fill="url(#h2)"/>
<rect x="379.2" y="437.6" width="168.2" height="2.3" fill="url(#h3)"/>
<rect x="379.2" y="439.6" width="168.2" height="2.3" fill="url(#h4)"/>
<rect x="379.2" y="441.6" width="168.2" height="2.3" fill="url(#h5)"/>
<rect x="379.2" y="443.6" width="168.2" height="2.3" fill="url(#h6)"/>
<rect x="379.2" y="445.6" width="168.2" height="2.3" fill="url(#h7)"/>
<rect x="379.2" y="447.6" width="168.2" height="2.3" fill="url(#h8)"/>
<rect x="379.2" y="449.6" width="168.2" height="2.3" fill="url(#h9)"/>
<rect x="379.2" y="451.6" width="168.2" height="2.3" fill="url(#h10)"/>
<rect x="379.2" y="453.6" width="168.2" height="2.3" fill="url(#h11)"/>
<rect x="379.2" y="455.6" width="168.2" height="2.3" fill="url(#h12)"/>
<rect x="379.2" y="457.6" width="168.2" height="2.3" fill="url(#h13)"/>
<rect x="379.2" y="459.6" width="168.2" height="2.3" fill="url(#h14)"/>
<rect x="379.2" y="461.6" width="168.2" height="2.3" fill="url(#h15)"/>
<rect x="379.2" y="463.6" width="168.2" height="2.3" fill="url(#h16)"/>
<rect x="379.2" y="465.6" width="168.2" height="2.3" fill="url(#h17)"/>
<rect x="379.2" y="467.6" width="168.2" height="2.3" fill="url(#h18)"/>
<rect x="379.2" y="469.6" width="168.2" height="2.3" fill="url(#h19)"/>
<rect x="379.2" y="471.6" width="168.2" height="2.3" fill="url(#h20)"/>
<rect x="379.2" y="473.6" width="168.2" height="2.3" fill="url(#h21)"/>
<rect x="379.2" y="475.6" width="168.2" height="2.3" fill="url(#h22)"/>
<rect x="379.2" y="477.6" width="168.2" height="2.3" fill="url(#h23)"/>
<rect x="379.2" y="479.6" width="168.2" height="2.3" fill="url(#h24)"/>
<rect x="379.2" y="481.6" width="168.2" height="2.3" fill="url(#h25)"/>
<rect x="379.2" y="483.6" width="168.2" height="2.3" fill="url(#h26)"/>
<rect x="379.2" y="485.6" width="168.2" height="2.3" fill="url(#h27)"/>
<rect x="379.2" y="487.6" width="168.2" height="2.3" fill="url(#h28)"/>
<rect x="379.2" y="489.6" width="168.2" height="2.3" fill="url(#h29)"/>
<rect x="379.2" y="491.6" width="168.2" height="2.3" fill="url(#h30)"/>
<rect x="379.2" y="493.6" width="168.2" height="2.3" fill="url(#h31)"/>
<rect x="379.2" y="495.6" width="168.2" height="2.3" fill="url(#h32)"/>
<rect x="379.2" y="497.6" width="168.2" height="2.3" fill="url(#h33)"/>
<rect x="379.2" y="499.6" width="168.2" height="2.3" fill="url(#h34)"/>
<rect x="379.2" y="501.6" width="168.2" height="2.3" fill="url(#h35)"/>
<rect x="379.2" y="503.6" width="168.2" height="2.3" fill="url(#h36)"/>
<rect x="379.2" y="505.6" width="168.2" height="2.3" fill="url(#h37)"/>
<rect x="379.2" y="507.6" width="168.2" height="2.3" fill="url(#h38)"/>
<rect x="379.2" y="509.6" width="168.2" height="2.3" fill="url(#h39)"/>
<rect x="379.2" y="511.6" width="168.2" height="2.3" fill="url(#h40)"/>
<rect x="379.2" y="513.6" width="168.2" height="2.3" fill="url(#h41)"/>
<rect x="379.2" y="515.6" width="168.2" height="2.3" fill="url(#h42)"/>
<rect x="379.2" y="517.6" width="168.2" height="2.3" fill="url(#h43)"/>
<rect x="379.2" y="519.6" width="168.2" height="2.3" fill="url(#h44)"/>
<rect x="379.2" y="521.6" width="168.2" height="2.3" fill="url(#h45)"/>
<rect x="379.2" y="523.6" width="168.2" height="2.3" fill="url(#h46)"/>
<rect x="379.2" y="525.6" width="168.2" height="2.3" fill="url(#h47)"/>
<rect x="379.2" y="527.6" width="168.2" height="2.3" fill="url(#h48)"/>
<rect x="379.2" y="529.6" width="168.2" height="2.3" fill="url(#h49)"/>
<rect x="379.2" y="531.6" width="168.2" height="2.3" fill="url(#h50)"/>
<rect x="379.2" y="533.6" width="168.2" height="2.3" fill="url(#h51)"/>
<rect x="379.2" y="535.6" width="168.2" height="2.3" fill="url(#h52)"/>
<rect x="379.2" y="537.6" width="168.2" height="2.3" fill="url(#h53)"/>
<rect x="379.2" y="539.6" width="168.2" height="2.3" fill="url(#h54)"/>
<rect x="379.2" y="541.6" width="168.2" height="2.3" fill="url(#h55)"/>
<rect x="379.2" y="543.6" width="168.2" height="2.3" fill="url(#h56)"/>
<rect x="379.2" y="545.6" width="168.2" height="2.3" fill="url(#h57)"/>
<rect x="379.2" y="547.6" width="168.2" height="2.3" fill="url(#h58)"/>
<rect x="379.2" y="549.6" width="168.2" height="2.3" fill="url(#h59)"/>
<rect x="379.2" y="551.6" width="168.2" height="2.3" fill="url(#h60)"/>
<rect x="379.2" y="553.6" width="168.2" height="2.3" fill="url(#h61)"/>
<rect x="379.2" y="555.6" width="168.2" height="2.3" fill="url(#h62)"/>
<rect x="379.2" y="557.6" width="168.2" height="2.3" fill="url(#h63)"/>
<rect x="379.2" y="559.6" width="168.2" height="2.3" fill="url(#h64)"/>
<rect x="379.2" y="561.6" width="168.2" height="2.3" fill="url(#h65)"/>
<rect x="379.2" y="563.6" width="168.2" height="2.3" fill="url(#h66)"/>
<rect x="379.2" y="565.6" width="168.2" height="2.3" fill="url(#h67)"/>
<rect x="379.2" y="567.6" width="168.2" height="2.3" fill="url(#h68)"/>
<rect x="379.2" y="569.6" width="168.2" height="2.3" fill="url(#h69)"/>
<rect x="379.2" y="571.6" width="168.2" height="2.3" fill="url(#h70)"/>
<rect x="379.2" y="573.6" width="168.2" height="2.3" fill="url(#h71)"/>
<rect x="379.2" y="575.6" width="168.2" height="2.3" fill="url(#h72)"/>
<rect x="379.2" y="577.6" width="168.2" height="2.3" fill="url(#h73)"/>
<rect x="379.2" y="579.6" width="168.2" height="2.3" fill="url(#h74)"/>
<rect x="379.2" y="581.6" width="168.2" height="2.3" fill="url(#h75)"/>
<rect x="379.2" y="583.6" width="168.2" height="2.3" fill="url(#h76)"/>
<rect x="379.2" y="585.6" width="168.2" height="2.3" fill="url(#h77)"/>
<rect x="379.2" y="587.6" width="168.2" height="2.3" fill="url(#h78)"/>
<rect x="379.2" y="589.6" width="168.2" height="2.3" fill="url(#h79)"/>
<rect x="379.2" y="591.6" width="168.2" height="2.3" fill="url(#h80)"/>
<rect x="379.2" y="593.6" width="168.2" height="2.3" fill="url(#h81)"/>
<rect x="379.2" y="595.6" width="168.2" height="2.3" fill="url(#h82)"/>
<rect x="379.2" y="597.6" width="168.2" height="2.3" fill="url(#h83)"/>
<rect x="379.2" y="599.6" width="168.2" height="2.3" fill="url(#h84)"/>
<rect x="379.2" y="601.6" width="168.2" height="2.3" fill="url(#h85)"/>
<rect x="379.2" y="603.6" width="168.2" height="2.3" fill="url(#h86)"/>
<rect x="379.2" y="605.6" width="168.2" height="2.3" fill="url(#h87)"/>
<rect x="379.2" y="607.6" width="168.2" height="2.3" fill="url(#h88)"/>
<rect x="379.2" y="609.6" width="168.2" height="2.3" fill="url(#h89)"/>
<rect x="379.2" y="611.6" width="168.2" height="2.3" fill="url(#h90)"/>
<rect x="379.2" y="613.6" width="168.2" height="2.3" fill="url(#h91)"/>
<rect x="379.2" y="615.6" width="168.2" height="2.3" fill="url(#h92)"/>
<rect x="379.2" y="617.6" width="168.2" height="2.3" fill="url(#h93)"/>
<rect x="379.2" y="619.6" width="168.2" height="2.3" fill="url(#h94)"/>
<rect x="379.2" y="621.6" width="168.2" height="2.3" fill="url(#h95)"/>
<rect x="379.2" y="623.6" width="168.2" height="2.3" fill="url(#h96)"/>
<rect x="379.2" y="625.6" width="168.2" height="2.3" fill="url(#h97)"/>
<rect x="379.2" y="627.6" width="168.2" height="2.3" fill="url(#h98)"/>
<rect x="379.2" y="629.6" width="168.2" height="2.3" fill="url(#h99)"/>
<rect x="379.2" y="631.6" width="168.2" height="1.3" fill="url(#h100)"/>
<line x1="410" y1="632.6" x2="508.2" y2="430.7" stroke="#1a261a" stroke-width="1.6" stroke-dasharray="3.8,2.4"/>
<rect x="379.2" y="431.6" width="168.2" height="201.29999999999995" fill="none" stroke="#262626" stroke-width="1.6"/>
<circle cx="410" cy="431.4" r="3" fill="#fff" stroke="#222" stroke-width="1.1"/>
<circle cx="508.2" cy="431.4" r="3" fill="#fff" stroke="#222" stroke-width="1.1"/>
<circle cx="410" cy="633" r="3" fill="#fff" stroke="#222" stroke-width="1.1"/>
<circle cx="505.6" cy="633" r="3" fill="#fff" stroke="#222" stroke-width="1.1"/>
<text x="410.7" y="448" font-size="14" text-anchor="middle" fill="#222" font-style="italic" stroke="#222" stroke-width="0.18">D</text>
<text x="508.8" y="448" font-size="14" text-anchor="middle" fill="#222" font-style="italic" stroke="#222" stroke-width="0.18">B</text>
<text x="405.3" y="627" font-size="14" text-anchor="middle" fill="#222" font-style="italic" stroke="#222" stroke-width="0.18">C</text>
<text x="505" y="627" font-size="14" text-anchor="middle" fill="#222" font-style="italic" stroke="#222" stroke-width="0.18">A</text>
<text x="384" y="463" font-size="14" text-anchor="start" fill="#fff" >FN</text>
<text x="519" y="618.5" font-size="14" text-anchor="start" fill="#fff" >DT</text>
<line x1="379.2" y1="613" x2="375" y2="613" stroke="#262626" stroke-width="1.5" />
<text x="373.2" y="618.2" font-size="14" text-anchor="end" fill="#262626"  stroke="#262626" stroke-width="0.18">1.2</text>
<line x1="379.2" y1="572.7" x2="375" y2="572.7" stroke="#262626" stroke-width="1.5" />
<text x="373.2" y="577.9" font-size="14" text-anchor="end" fill="#262626"  stroke="#262626" stroke-width="0.18">1.3</text>
<line x1="379.2" y1="532.4" x2="375" y2="532.4" stroke="#262626" stroke-width="1.5" />
<text x="373.2" y="537.6" font-size="14" text-anchor="end" fill="#262626"  stroke="#262626" stroke-width="0.18">1.4</text>
<line x1="379.2" y1="492.1" x2="375" y2="492.1" stroke="#262626" stroke-width="1.5" />
<text x="373.2" y="497.3" font-size="14" text-anchor="end" fill="#262626"  stroke="#262626" stroke-width="0.18">1.5</text>
<line x1="379.2" y1="451.8" x2="375" y2="451.8" stroke="#262626" stroke-width="1.5" />
<text x="373.2" y="457" font-size="14" text-anchor="end" fill="#262626"  stroke="#262626" stroke-width="0.18">1.6</text>
<line x1="404.2" y1="632.9" x2="404.2" y2="637.1" stroke="#262626" stroke-width="1.5" />
<text x="405.2" y="650.9" font-size="14" text-anchor="middle" fill="#262626"  stroke="#262626" stroke-width="0.18">0.8</text>
<text x="395.2" y="650.9" font-size="14" text-anchor="end" fill="#262626"  stroke="#262626" stroke-width="0.18">−</text>
<line x1="443.5" y1="632.9" x2="443.5" y2="637.1" stroke="#262626" stroke-width="1.5" />
<text x="444.5" y="650.9" font-size="14" text-anchor="middle" fill="#262626"  stroke="#262626" stroke-width="0.18">0.6</text>
<text x="434.5" y="650.9" font-size="14" text-anchor="end" fill="#262626"  stroke="#262626" stroke-width="0.18">−</text>
<line x1="482.8" y1="632.9" x2="482.8" y2="637.1" stroke="#262626" stroke-width="1.5" />
<text x="483.8" y="650.9" font-size="14" text-anchor="middle" fill="#262626"  stroke="#262626" stroke-width="0.18">0.4</text>
<text x="473.8" y="650.9" font-size="14" text-anchor="end" fill="#262626"  stroke="#262626" stroke-width="0.18">−</text>
<line x1="522.1" y1="632.9" x2="522.1" y2="637.1" stroke="#262626" stroke-width="1.5" />
<text x="523.1" y="650.9" font-size="14" text-anchor="middle" fill="#262626"  stroke="#262626" stroke-width="0.18">0.2</text>
<text x="513.1" y="650.9" font-size="14" text-anchor="end" fill="#262626"  stroke="#262626" stroke-width="0.18">−</text>
<text x="467.5" y="667.6" font-size="13.6" text-anchor="middle" fill="#262626"  stroke="#262626" stroke-width="0.18"><tspan font-style="italic">eV</tspan><tspan font-size="9" dy="3.5">G,eff</tspan><tspan dy="-3.5"> (eV)</tspan></text>
<text transform="translate(345.4,533) rotate(-90)" font-size="13" text-anchor="middle" fill="#262626" stroke="#262626" stroke-width="0.18"><tspan font-style="italic">V</tspan> (V)</text>
<text x="334.8" y="439.2" font-size="16.5" font-weight="bold" fill="#111" stroke="#111" stroke-width="0.6">d</text>
<text x="582.5" y="444.7" font-size="14" text-anchor="middle" fill="#222" font-style="italic" stroke="#222" stroke-width="0.18">D</text>
<polyline points="614.6,450.6 596.3,450.6 596.3,471.3 574,502.5 574,482.5" fill="none" stroke="#222" stroke-width="1.9" stroke-linejoin="miter"/>
<line x1="555.9" y1="482.5" x2="583.5" y2="482.5" stroke="#222" stroke-width="1.8" />
<polygon points="582.5,480.3 586.5,482.5 582.5,484.7" fill="#222"/>
<line x1="569.1" y1="453" x2="569.1" y2="479.3" stroke="#222" stroke-width="0.9" />
<polygon points="567.3,453.6 569.1,450.6 570.9,453.6" fill="#222"/>
<polygon points="567.3,478.7 569.1,481.7 570.9,478.7" fill="#222"/>
<circle cx="579.2" cy="477.8" r="2.3" fill="none" stroke="#222" stroke-width="1"/>
<text x="552.4" y="470.6" font-size="12" text-anchor="start" fill="#222"  stroke="#222" stroke-width="0.18">eV</text>
<text x="559.5" y="497.5" font-size="12.5" text-anchor="start" fill="#222"  stroke="#222" stroke-width="0.18">S</text>
<text x="602.8" y="466" font-size="12.5" text-anchor="start" fill="#222"  stroke="#222" stroke-width="0.18">D</text>
<text x="651" y="444.7" font-size="14" text-anchor="middle" fill="#222" font-style="italic" stroke="#222" stroke-width="0.18">B</text>
<polyline points="681.7,451.2 664.3,451.2 664.3,483.1 642,512.7 642,483" fill="none" stroke="#222" stroke-width="1.9" stroke-linejoin="miter"/>
<line x1="623.9" y1="483" x2="654.4" y2="483" stroke="#222" stroke-width="1.8" />
<polygon points="653.4,480.8 657.4,483 653.4,485.2" fill="#222"/>
<line x1="635.7" y1="453.6" x2="635.7" y2="479.8" stroke="#222" stroke-width="0.9" />
<polygon points="633.9,454.2 635.7,451.2 637.5,454.2" fill="#222"/>
<polygon points="633.9,479.2 635.7,482.2 637.5,479.2" fill="#222"/>
<circle cx="646.6" cy="477.8" r="2.3" fill="none" stroke="#222" stroke-width="1"/>
<text x="620" y="471.1" font-size="12" text-anchor="start" fill="#222"  stroke="#222" stroke-width="0.18">eV</text>
<text x="627.8" y="498" font-size="12.5" text-anchor="start" fill="#222"  stroke="#222" stroke-width="0.18">S</text>
<text x="670.6" y="466" font-size="12.5" text-anchor="start" fill="#222"  stroke="#222" stroke-width="0.18">D</text>
<text x="583.2" y="534.3" font-size="14" text-anchor="middle" fill="#222" font-style="italic" stroke="#222" stroke-width="0.18">C</text>
<polyline points="613.5,538.6 594.9,538.6 594.9,558 573.6,577.7 573.6,558.8" fill="none" stroke="#222" stroke-width="1.9" stroke-linejoin="miter"/>
<line x1="555.5" y1="558.8" x2="585.4" y2="558.8" stroke="#222" stroke-width="1.8" />
<polygon points="584.4,556.6 588.4,558.8 584.4,561" fill="#222"/>
<line x1="568.3" y1="541" x2="568.3" y2="555.6" stroke="#222" stroke-width="0.9" />
<polygon points="566.5,541.6 568.3,538.6 570.1,541.6" fill="#222"/>
<polygon points="566.5,555 568.3,558 570.1,555" fill="#222"/>
<circle cx="578.2" cy="553.4" r="2.3" fill="none" stroke="#222" stroke-width="1"/>
<text x="551" y="552.7" font-size="12" text-anchor="start" fill="#222"  stroke="#222" stroke-width="0.18">eV</text>
<text x="558.9" y="573.8" font-size="12.5" text-anchor="start" fill="#222"  stroke="#222" stroke-width="0.18">S</text>
<text x="601.6" y="554" font-size="12.5" text-anchor="start" fill="#222"  stroke="#222" stroke-width="0.18">D</text>
<text x="650.8" y="534.3" font-size="14" text-anchor="middle" fill="#222" font-style="italic" stroke="#222" stroke-width="0.18">A</text>
<polyline points="681.7,539 663.9,539 663.9,569.8 641.6,588.9 641.6,558.8" fill="none" stroke="#222" stroke-width="1.9" stroke-linejoin="miter"/>
<line x1="624.5" y1="558.8" x2="654.4" y2="558.8" stroke="#222" stroke-width="1.8" />
<polygon points="653.4,556.6 657.4,558.8 653.4,561" fill="#222"/>
<line x1="636.7" y1="541.4" x2="636.7" y2="555.6" stroke="#222" stroke-width="0.9" />
<polygon points="634.9,542 636.7,539 638.5,542" fill="#222"/>
<polygon points="634.9,555 636.7,558 638.5,555" fill="#222"/>
<circle cx="646.6" cy="553.4" r="2.3" fill="none" stroke="#222" stroke-width="1"/>
<text x="620" y="552.9" font-size="12" text-anchor="start" fill="#222"  stroke="#222" stroke-width="0.18">eV</text>
<text x="627.8" y="573.8" font-size="12.5" text-anchor="start" fill="#222"  stroke="#222" stroke-width="0.18">S</text>
<text x="670.6" y="554" font-size="12.5" text-anchor="start" fill="#222"  stroke="#222" stroke-width="0.18">D</text>
<rect x="564.8" y="622.2" width="100.4" height="8.9" fill="url(#cbar)"/>
<text x="614.5" y="618.3" font-size="12.6" text-anchor="middle" fill="#262626"  stroke="#262626" stroke-width="0.18">dln(<tspan font-style="italic">I</tspan>/<tspan font-style="italic">V</tspan><tspan font-size="7.5" dy="-4.5">2</tspan><tspan dy="4.5">)/d(1/</tspan><tspan font-style="italic">V</tspan>)</text>
<text x="565.5" y="642.8" font-size="12" text-anchor="middle" fill="#262626"  stroke="#262626" stroke-width="0.18">0.25</text>
<text x="663.5" y="642.8" font-size="12" text-anchor="middle" fill="#262626"  stroke="#262626" stroke-width="0.18">−0.3</text>
</svg></body></html>
